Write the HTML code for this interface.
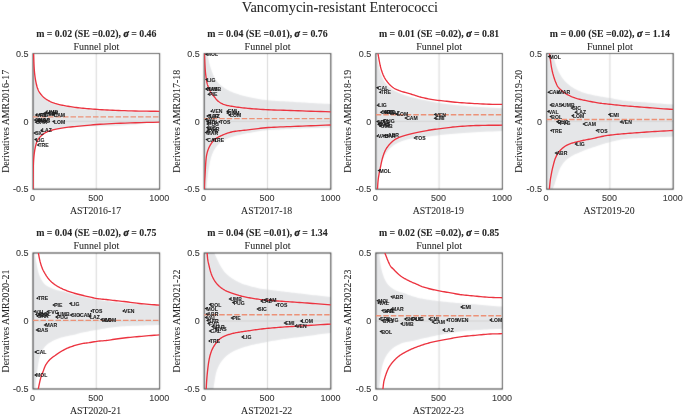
<!DOCTYPE html><html><head><meta charset="utf-8"><style>html,body{margin:0;padding:0;background:#fff;}svg{display:block;will-change:transform;}.sf{font-family:"Liberation Serif",serif;stroke-width:0.06px;} .ss{font-family:"Liberation Sans",sans-serif;stroke-width:0.1px;}</style></head><body>
<svg width="685" height="416" viewBox="0 0 685 416">
<filter id="bl" x="0" y="0" width="1" height="1"><feConvolveMatrix order="3" kernelMatrix="1 2 1 2 16 2 1 2 1" divisor="28" edgeMode="duplicate"/></filter>
<g filter="url(#bl)">
<rect width="685" height="416" fill="#fff"/>
<clipPath id="c0"><rect x="33" y="53.5" width="126.6" height="135.7"/></clipPath>
<g clip-path="url(#c0)"><path d="M33 53.5 L33.6 53.5 L33.6 53.5 L33.62 54.39 L33.64 55.27 L33.67 56.14 L33.69 57 L33.72 57.86 L33.74 58.7 L33.77 59.52 L33.8 60.34 L33.83 61.15 L33.86 61.94 L33.89 62.73 L33.92 63.49 L33.95 64.25 L33.99 65 L34.02 65.73 L34.06 66.44 L34.1 67.15 L34.14 67.84 L34.18 68.52 L34.22 69.18 L34.27 69.82 L34.32 70.45 L34.36 71.05 L34.41 71.65 L34.46 72.22 L34.52 72.79 L34.57 73.35 L34.63 73.89 L34.69 74.43 L34.75 74.97 L34.81 75.49 L34.88 76.02 L34.95 76.53 L35.02 77.05 L35.09 77.56 L35.17 78.08 L35.25 78.59 L35.33 79.1 L35.41 79.62 L35.5 80.13 L35.59 80.65 L35.69 81.17 L35.78 81.69 L35.88 82.22 L35.99 82.74 L36.1 83.27 L36.21 83.79 L36.33 84.31 L36.45 84.82 L36.57 85.33 L36.7 85.84 L36.84 86.33 L36.98 86.82 L37.12 87.31 L37.27 87.78 L37.42 88.25 L37.59 88.71 L37.75 89.16 L37.92 89.6 L38.1 90.04 L38.29 90.46 L38.48 90.87 L38.68 91.27 L38.89 91.66 L39.1 92.03 L39.32 92.4 L39.55 92.76 L39.79 93.12 L40.04 93.47 L40.29 93.82 L40.56 94.18 L40.83 94.53 L41.12 94.88 L41.41 95.24 L41.72 95.6 L42.03 95.97 L42.36 96.33 L42.7 96.68 L43.05 97.03 L43.42 97.37 L43.8 97.71 L44.19 98.04 L44.6 98.37 L45.02 98.69 L45.45 99.01 L45.91 99.32 L46.37 99.63 L46.86 99.94 L47.36 100.24 L47.88 100.55 L48.43 100.87 L48.99 101.18 L49.57 101.49 L50.17 101.8 L50.79 102.1 L51.44 102.4 L52.11 102.69 L52.8 102.97 L53.52 103.24 L54.27 103.5 L55.04 103.75 L55.84 103.99 L56.67 104.22 L57.53 104.45 L58.42 104.68 L59.34 104.9 L60.3 105.11 L61.29 105.32 L62.32 105.53 L63.38 105.74 L64.49 105.95 L65.63 106.16 L66.82 106.37 L68.04 106.58 L69.32 106.79 L70.64 107.01 L72 107.22 L73.42 107.42 L74.89 107.63 L76.41 107.82 L77.99 108.02 L79.62 108.2 L81.31 108.39 L83.07 108.56 L84.89 108.73 L86.77 108.9 L88.73 109.06 L90.75 109.23 L92.85 109.39 L95.02 109.56 L97.27 109.73 L99.61 109.93 L102.03 110.14 L104.53 110.35 L107.13 110.55 L109.83 110.72 L112.62 110.86 L115.51 110.97 L118.5 111.07 L121.61 111.17 L124.83 111.26 L128.16 111.34 L131.62 111.42 L135.2 111.5 L138.92 111.58 L142.76 111.65 L146.75 111.69 L150.88 111.73 L155.16 111.76 L159.6 111.8 L161.6 111.8 L161.6 122.5 L159.6 122.5 L153.07 122.75 L146.88 123.08 L141.01 123.78 L135.44 124.47 L130.16 124.82 L125.15 125.15 L120.4 125.43 L115.9 125.64 L111.62 125.76 L107.57 125.84 L103.73 125.91 L100.08 125.99 L96.62 126.1 L93.34 126.22 L90.23 126.34 L87.28 126.47 L84.48 126.6 L81.83 126.73 L79.31 126.86 L76.92 126.99 L74.66 127.12 L72.51 127.26 L70.48 127.39 L68.54 127.53 L66.71 127.69 L64.97 127.86 L63.33 128.05 L61.76 128.25 L60.28 128.47 L58.87 128.69 L57.54 128.93 L56.27 129.18 L55.07 129.43 L53.94 129.68 L52.86 129.95 L51.83 130.22 L50.86 130.5 L49.94 130.78 L49.07 131.08 L48.24 131.39 L47.45 131.71 L46.71 132.04 L46 132.39 L45.33 132.76 L44.7 133.13 L44.09 133.52 L43.52 133.92 L42.98 134.33 L42.46 134.73 L41.98 135.15 L41.51 135.55 L41.08 135.96 L40.66 136.36 L40.26 136.77 L39.89 137.17 L39.53 137.57 L39.2 137.98 L38.88 138.39 L38.58 138.81 L38.29 139.23 L38.02 139.66 L37.76 140.11 L37.51 140.57 L37.28 141.05 L37.06 141.53 L36.85 142.03 L36.65 142.54 L36.46 143.05 L36.28 143.58 L36.11 144.11 L35.95 144.66 L35.8 145.21 L35.66 145.76 L35.52 146.32 L35.39 146.89 L35.27 147.46 L35.15 148.02 L35.04 148.59 L34.93 149.16 L34.83 149.71 L34.74 150.26 L34.65 150.81 L34.57 151.34 L34.48 151.87 L34.41 152.4 L34.34 152.91 L34.27 153.42 L34.2 153.92 L34.14 154.42 L34.08 154.9 L34.02 155.39 L33.97 155.86 L33.92 156.33 L33.87 156.8 L33.83 157.26 L33.79 157.73 L33.75 158.18 L33.71 158.64 L33.67 159.1 L33.64 159.56 L33.6 160.03 L33.57 160.5 L33.54 160.97 L33.52 161.46 L33.49 161.96 L33.46 162.47 L33.44 163 L33.42 163.56 L33.4 164.13 L33.37 164.72 L33.36 165.31 L33.34 165.91 L33.32 166.52 L33.3 167.13 L33.29 167.76 L33.27 168.38 L33.26 169.02 L33.25 169.66 L33.23 170.3 L33.22 170.95 L33.21 171.6 L33.2 172.26 L33.19 172.92 L33.18 173.59 L33.17 174.26 L33.16 174.93 L33.15 175.6 L33.14 176.27 L33.14 176.94 L33.13 177.6 L33.12 178.27 L33.12 178.93 L33.11 179.59 L33.11 180.24 L33.1 180.88 L33.09 181.52 L33.09 182.15 L33.09 182.76 L33.08 183.36 L33.08 183.94 L33.07 184.51 L33.07 185.05 L33.07 185.58 L33.06 186.08 L33.06 186.55 L33.06 186.99 L33.05 187.4 L33.05 187.78 L33.05 188.11 L33.05 188.4 L33.04 188.64 L33.04 188.84 L33.04 188.97 L33.04 189.2 L33 189.2 Z" fill="#e5e6e8"/><line x1="96.3" y1="53.5" x2="96.3" y2="189.2" stroke="#d0d0d0" stroke-width="0.9"/><line x1="33" y1="121.35" x2="159.6" y2="121.35" stroke="#d0d0d0" stroke-width="0.9"/></g>
<rect x="33" y="53.5" width="126.6" height="135.7" fill="none" stroke="#262626" stroke-width="1.05"/>
<clipPath id="c1"><rect x="204.2" y="53.5" width="126.6" height="135.7"/></clipPath>
<g clip-path="url(#c1)"><path d="M204.2 53.5 L207.2 53.5 L207.21 53.53 L207.28 53.86 L207.36 54.17 L207.45 54.48 L207.53 54.8 L207.62 55.15 L207.71 55.54 L207.8 55.98 L207.89 56.46 L207.99 56.94 L208.08 57.44 L208.18 57.94 L208.29 58.44 L208.39 58.96 L208.5 59.48 L208.61 60 L208.73 60.53 L208.85 61.06 L208.97 61.6 L209.09 62.13 L209.22 62.67 L209.35 63.22 L209.48 63.76 L209.62 64.3 L209.76 64.85 L209.9 65.39 L210.05 65.92 L210.2 66.45 L210.36 66.98 L210.52 67.5 L210.68 68.02 L210.85 68.54 L211.02 69.06 L211.2 69.58 L211.38 70.1 L211.57 70.62 L211.76 71.15 L211.96 71.68 L212.16 72.21 L212.36 72.75 L212.58 73.29 L212.79 73.83 L213.02 74.38 L213.25 74.93 L213.48 75.47 L213.72 76 L213.97 76.53 L214.22 77.06 L214.48 77.57 L214.75 78.08 L215.02 78.58 L215.3 79.07 L215.59 79.55 L215.89 80 L216.19 80.43 L216.5 80.84 L216.82 81.24 L217.15 81.62 L217.48 82 L217.83 82.38 L218.18 82.77 L218.54 83.15 L218.92 83.54 L219.3 83.92 L219.69 84.3 L220.09 84.68 L220.51 85.05 L220.93 85.42 L221.36 85.79 L221.81 86.15 L222.26 86.51 L222.73 86.86 L223.21 87.22 L223.71 87.57 L224.21 87.91 L224.73 88.25 L225.27 88.59 L225.81 88.93 L226.37 89.26 L226.95 89.59 L227.54 89.92 L228.15 90.25 L228.77 90.57 L229.4 90.89 L230.06 91.2 L230.73 91.51 L231.42 91.82 L232.12 92.12 L232.85 92.42 L233.59 92.71 L234.35 93 L235.14 93.28 L235.94 93.56 L236.76 93.83 L237.61 94.1 L238.48 94.37 L239.37 94.63 L240.28 94.9 L241.21 95.16 L242.17 95.42 L243.16 95.68 L244.17 95.94 L245.21 96.2 L246.27 96.45 L247.36 96.72 L248.48 96.98 L249.63 97.24 L250.81 97.5 L252.02 97.75 L253.26 98.01 L254.54 98.26 L255.84 98.51 L257.18 98.75 L258.56 98.99 L259.97 99.23 L261.42 99.46 L262.9 99.67 L264.42 99.87 L265.99 100.06 L267.59 100.22 L269.24 100.38 L270.92 100.52 L272.65 100.66 L274.43 100.78 L276.25 100.91 L278.12 101.02 L280.04 101.14 L282.01 101.26 L284.03 101.37 L286.1 101.49 L288.23 101.61 L290.41 101.73 L292.64 101.86 L294.94 101.99 L297.29 102.13 L299.71 102.28 L302.19 102.44 L304.73 102.59 L307.34 102.75 L310.02 102.91 L312.76 103.07 L315.58 103.23 L318.47 103.39 L321.43 103.55 L324.48 103.7 L327.6 103.85 L330.8 104.01 L332.8 104.01 L332.8 127.5 L330.8 127.5 L327.39 127.59 L324.08 127.69 L320.85 127.78 L317.71 127.88 L314.66 127.97 L311.69 128.07 L308.79 128.17 L305.98 128.27 L303.24 128.37 L300.57 128.48 L297.98 128.58 L295.46 128.68 L293 128.78 L290.61 128.89 L288.29 128.99 L286.02 129.09 L283.82 129.19 L281.68 129.29 L279.59 129.4 L277.56 129.51 L275.59 129.62 L273.67 129.74 L271.8 129.86 L269.98 129.99 L268.21 130.12 L266.49 130.27 L264.81 130.42 L263.18 130.59 L261.59 130.78 L260.05 130.99 L258.55 131.22 L257.08 131.46 L255.66 131.71 L254.27 131.96 L252.93 132.21 L251.62 132.45 L250.34 132.68 L249.1 132.89 L247.89 133.1 L246.71 133.32 L245.57 133.54 L244.46 133.76 L243.37 133.98 L242.32 134.2 L241.29 134.43 L240.29 134.66 L239.32 134.89 L238.38 135.13 L237.46 135.36 L236.56 135.6 L235.69 135.84 L234.85 136.08 L234.02 136.32 L233.22 136.57 L232.44 136.82 L231.68 137.06 L230.94 137.31 L230.22 137.55 L229.52 137.8 L228.84 138.05 L228.17 138.3 L227.53 138.56 L226.9 138.82 L226.29 139.08 L225.7 139.36 L225.12 139.64 L224.55 139.93 L224.01 140.23 L223.47 140.54 L222.95 140.85 L222.45 141.17 L221.96 141.5 L221.48 141.83 L221.02 142.17 L220.56 142.51 L220.12 142.87 L219.69 143.22 L219.28 143.59 L218.87 143.95 L218.48 144.33 L218.09 144.7 L217.72 145.09 L217.35 145.48 L217 145.88 L216.66 146.29 L216.32 146.71 L215.99 147.13 L215.68 147.57 L215.37 148.01 L215.07 148.46 L214.78 148.92 L214.49 149.38 L214.21 149.86 L213.94 150.34 L213.68 150.84 L213.43 151.34 L213.18 151.86 L212.94 152.38 L212.7 152.92 L212.47 153.46 L212.25 154.02 L212.03 154.59 L211.82 155.17 L211.62 155.76 L211.42 156.37 L211.22 156.98 L211.04 157.61 L210.85 158.25 L210.67 158.9 L210.5 159.58 L210.33 160.29 L210.16 161.03 L210 161.79 L209.85 162.57 L209.69 163.36 L209.55 164.16 L209.4 164.97 L209.26 165.77 L209.13 166.57 L208.99 167.35 L208.87 168.12 L208.74 168.86 L208.62 169.6 L208.5 170.36 L208.38 171.12 L208.27 171.89 L208.16 172.66 L208.05 173.45 L207.95 174.24 L207.85 175.03 L207.75 175.83 L207.66 176.63 L207.56 177.44 L207.47 178.25 L207.38 179.06 L207.3 179.86 L207.22 180.67 L207.13 181.48 L207.06 182.29 L206.98 183.1 L206.9 183.92 L206.83 184.75 L206.76 185.58 L206.69 186.43 L206.62 187.29 L206.56 188.17 L206.5 189.07 L206.49 189.2 L204.2 189.2 Z" fill="#e5e6e8"/><line x1="267.5" y1="53.5" x2="267.5" y2="189.2" stroke="#d0d0d0" stroke-width="0.9"/><line x1="204.2" y1="121.35" x2="330.8" y2="121.35" stroke="#d0d0d0" stroke-width="0.9"/></g>
<rect x="204.2" y="53.5" width="126.6" height="135.7" fill="none" stroke="#262626" stroke-width="1.05"/>
<clipPath id="c2"><rect x="375.8" y="53.5" width="126.6" height="135.7"/></clipPath>
<g clip-path="url(#c2)"><path d="M375.8 53.5 L376.63 53.5 L376.65 53.7 L376.69 53.98 L376.72 54.27 L376.76 54.57 L376.8 54.88 L376.84 55.21 L376.88 55.54 L376.93 55.88 L376.97 56.23 L377.02 56.59 L377.07 56.96 L377.12 57.33 L377.18 57.72 L377.23 58.1 L377.29 58.5 L377.35 58.9 L377.42 59.3 L377.48 59.7 L377.55 60.1 L377.62 60.49 L377.7 60.89 L377.77 61.29 L377.85 61.7 L377.94 62.11 L378.03 62.53 L378.12 62.96 L378.21 63.41 L378.31 63.87 L378.41 64.34 L378.52 64.83 L378.63 65.33 L378.74 65.84 L378.87 66.35 L378.99 66.86 L379.12 67.38 L379.26 67.92 L379.4 68.46 L379.54 69.03 L379.7 69.61 L379.86 70.21 L380.02 70.82 L380.19 71.43 L380.37 72.03 L380.56 72.65 L380.75 73.26 L380.96 73.87 L381.17 74.49 L381.39 75.1 L381.61 75.72 L381.85 76.33 L382.1 76.95 L382.36 77.57 L382.62 78.2 L382.9 78.82 L383.19 79.44 L383.49 80.05 L383.81 80.65 L384.13 81.24 L384.47 81.8 L384.83 82.34 L385.2 82.86 L385.58 83.36 L385.98 83.85 L386.39 84.33 L386.83 84.81 L387.28 85.3 L387.75 85.78 L388.23 86.25 L388.74 86.73 L389.27 87.19 L389.82 87.65 L390.39 88.1 L390.99 88.55 L391.61 88.99 L392.25 89.43 L392.92 89.85 L393.62 90.27 L394.35 90.67 L395.11 91.05 L395.9 91.44 L396.72 91.83 L397.57 92.23 L398.46 92.65 L399.38 93.08 L400.35 93.51 L401.35 93.94 L402.39 94.36 L403.48 94.77 L404.61 95.17 L405.78 95.57 L407.01 95.96 L408.28 96.35 L409.61 96.73 L410.99 97.1 L412.42 97.47 L413.92 97.83 L415.48 98.2 L417.09 98.57 L418.78 98.94 L420.54 99.31 L422.36 99.68 L424.26 100.05 L426.24 100.46 L428.3 100.91 L430.44 101.36 L432.67 101.82 L434.99 102.27 L437.41 102.7 L439.93 103.1 L442.54 103.48 L445.27 103.85 L448.1 104.22 L451.06 104.57 L454.13 104.91 L457.33 105.24 L460.65 105.56 L464.12 105.86 L467.72 106.16 L471.48 106.44 L475.38 106.72 L479.45 106.98 L483.68 107.24 L488.08 107.49 L492.66 107.74 L497.43 107.97 L502.4 108.2 L504.4 108.2 L504.4 130.99 L502.4 130.99 L497.43 131.19 L492.66 131.39 L488.08 131.58 L483.68 131.78 L479.45 131.98 L475.38 132.19 L471.48 132.41 L467.72 132.64 L464.12 132.88 L460.65 133.13 L457.33 133.38 L454.13 133.65 L451.06 133.91 L448.1 134.19 L445.27 134.47 L442.54 134.77 L439.93 135.08 L437.41 135.4 L434.99 135.71 L432.67 136 L430.44 136.26 L428.3 136.49 L426.24 136.68 L424.26 136.86 L422.36 137.03 L420.54 137.22 L418.78 137.43 L417.09 137.68 L415.48 137.93 L413.92 138.19 L412.42 138.45 L410.99 138.72 L409.61 139 L408.28 139.3 L407.01 139.6 L405.78 139.92 L404.61 140.25 L403.48 140.6 L402.39 140.97 L401.35 141.35 L400.35 141.74 L399.38 142.14 L398.46 142.56 L397.57 142.99 L396.72 143.44 L395.9 143.9 L395.11 144.37 L394.35 144.85 L393.62 145.35 L392.92 145.86 L392.25 146.39 L391.61 146.92 L390.99 147.46 L390.39 148.01 L389.82 148.57 L389.27 149.14 L388.74 149.71 L388.23 150.31 L387.75 150.91 L387.28 151.53 L386.83 152.16 L386.39 152.8 L385.98 153.44 L385.58 154.09 L385.2 154.75 L384.83 155.41 L384.47 156.07 L384.13 156.73 L383.81 157.39 L383.49 158.04 L383.19 158.68 L382.9 159.31 L382.62 159.94 L382.36 160.56 L382.1 161.18 L381.85 161.8 L381.61 162.41 L381.39 163.02 L381.17 163.63 L380.96 164.24 L380.75 164.85 L380.56 165.47 L380.37 166.09 L380.19 166.71 L380.02 167.33 L379.86 167.94 L379.7 168.55 L379.54 169.14 L379.4 169.74 L379.26 170.32 L379.12 170.91 L378.99 171.48 L378.87 172.05 L378.74 172.62 L378.63 173.18 L378.52 173.73 L378.41 174.28 L378.31 174.83 L378.21 175.37 L378.12 175.9 L378.03 176.44 L377.94 176.97 L377.85 177.5 L377.77 178.03 L377.7 178.56 L377.62 179.08 L377.55 179.61 L377.48 180.14 L377.42 180.67 L377.35 181.19 L377.29 181.7 L377.23 182.21 L377.18 182.7 L377.12 183.19 L377.07 183.67 L377.02 184.14 L376.97 184.6 L376.93 185.05 L376.88 185.49 L376.84 185.92 L376.8 186.33 L376.76 186.74 L376.72 187.12 L376.69 187.5 L376.65 187.86 L376.62 188.2 L376.59 188.52 L376.56 188.83 L376.53 189.12 L376.1 189.03 L376.1 189.2 L375.8 189.2 Z" fill="#e5e6e8"/><line x1="439.1" y1="53.5" x2="439.1" y2="189.2" stroke="#d0d0d0" stroke-width="0.9"/><line x1="375.8" y1="121.35" x2="502.4" y2="121.35" stroke="#d0d0d0" stroke-width="0.9"/></g>
<rect x="375.8" y="53.5" width="126.6" height="135.7" fill="none" stroke="#262626" stroke-width="1.05"/>
<clipPath id="c3"><rect x="546.6" y="53.5" width="126.6" height="135.7"/></clipPath>
<g clip-path="url(#c3)"><path d="M546.6 53.5 L552.41 53.5 L552.45 53.68 L552.58 54.09 L552.71 54.49 L552.84 54.88 L552.98 55.28 L553.12 55.7 L553.26 56.15 L553.4 56.64 L553.55 57.18 L553.7 57.74 L553.85 58.29 L554.01 58.85 L554.17 59.4 L554.34 59.96 L554.51 60.52 L554.68 61.09 L554.85 61.65 L555.03 62.23 L555.22 62.81 L555.4 63.39 L555.59 63.98 L555.79 64.58 L555.99 65.17 L556.19 65.76 L556.4 66.35 L556.62 66.93 L556.83 67.51 L557.06 68.08 L557.28 68.65 L557.52 69.22 L557.75 69.78 L557.99 70.33 L558.24 70.88 L558.5 71.43 L558.75 71.97 L559.02 72.5 L559.29 73.03 L559.56 73.55 L559.85 74.06 L560.13 74.57 L560.43 75.07 L560.73 75.57 L561.03 76.05 L561.35 76.54 L561.67 77.01 L562 77.49 L562.33 77.95 L562.67 78.42 L563.02 78.88 L563.38 79.33 L563.74 79.78 L564.12 80.22 L564.5 80.66 L564.89 81.09 L565.28 81.52 L565.69 81.94 L566.1 82.36 L566.53 82.77 L566.96 83.18 L567.4 83.58 L567.86 83.98 L568.32 84.37 L568.79 84.76 L569.27 85.15 L569.76 85.52 L570.27 85.9 L570.78 86.27 L571.31 86.63 L571.84 86.99 L572.39 87.35 L572.95 87.71 L573.53 88.06 L574.11 88.4 L574.71 88.74 L575.32 89.08 L575.94 89.41 L576.58 89.74 L577.23 90.07 L577.9 90.39 L578.58 90.7 L579.27 91.01 L579.98 91.32 L580.71 91.62 L581.45 91.92 L582.21 92.2 L582.98 92.47 L583.77 92.73 L584.58 92.98 L585.41 93.22 L586.25 93.46 L587.11 93.69 L587.99 93.92 L588.89 94.14 L589.81 94.36 L590.75 94.58 L591.71 94.8 L592.69 95.01 L593.69 95.23 L594.71 95.45 L595.76 95.66 L596.83 95.87 L597.92 96.07 L599.03 96.26 L600.17 96.46 L601.34 96.65 L602.53 96.85 L603.74 97.04 L604.99 97.24 L606.25 97.45 L607.55 97.65 L608.88 97.87 L610.23 98.09 L611.61 98.32 L613.02 98.59 L614.47 98.88 L615.94 99.19 L617.45 99.51 L618.99 99.82 L620.56 100.12 L622.17 100.4 L623.81 100.65 L625.49 100.86 L627.2 101.04 L628.96 101.22 L630.75 101.37 L632.57 101.52 L634.44 101.67 L636.35 101.81 L638.3 101.94 L640.3 102.08 L642.33 102.23 L644.41 102.37 L646.54 102.53 L648.71 102.7 L650.93 102.87 L653.2 103.06 L655.51 103.24 L657.88 103.42 L660.3 103.61 L662.77 103.79 L665.29 103.97 L667.87 104.15 L670.51 104.33 L673.2 104.5 L675.2 104.5 L675.2 136.6 L673.2 136.6 L670.53 136.7 L667.92 136.81 L665.37 136.91 L662.87 137.02 L660.42 137.12 L658.02 137.23 L655.67 137.33 L653.38 137.44 L651.13 137.55 L648.93 137.65 L646.77 137.75 L644.66 137.83 L642.6 137.91 L640.57 137.99 L638.59 138.07 L636.66 138.15 L634.76 138.23 L632.9 138.33 L631.09 138.44 L629.31 138.57 L627.56 138.72 L625.86 138.9 L624.19 139.11 L622.55 139.35 L620.96 139.62 L619.39 139.91 L617.86 140.23 L616.36 140.56 L614.89 140.91 L613.45 141.26 L612.04 141.61 L610.66 141.96 L609.31 142.3 L607.99 142.63 L606.7 142.98 L605.43 143.33 L604.19 143.7 L602.98 144.07 L601.79 144.44 L600.63 144.82 L599.49 145.19 L598.38 145.56 L597.29 145.93 L596.22 146.29 L595.18 146.64 L594.15 146.98 L593.15 147.3 L592.17 147.6 L591.21 147.9 L590.27 148.21 L589.35 148.52 L588.45 148.83 L587.57 149.15 L586.71 149.47 L585.86 149.79 L585.03 150.11 L584.22 150.44 L583.43 150.77 L582.66 151.11 L581.9 151.45 L581.15 151.77 L580.43 152.08 L579.71 152.36 L579.02 152.64 L578.33 152.91 L577.66 153.17 L577.01 153.43 L576.37 153.69 L575.74 153.96 L575.13 154.24 L574.53 154.54 L573.94 154.84 L573.36 155.15 L572.8 155.46 L572.25 155.77 L571.71 156.09 L571.18 156.41 L570.66 156.73 L570.16 157.06 L569.66 157.4 L569.17 157.73 L568.7 158.07 L568.23 158.41 L567.78 158.75 L567.33 159.09 L566.89 159.43 L566.47 159.77 L566.05 160.12 L565.64 160.48 L565.24 160.86 L564.85 161.25 L564.46 161.66 L564.08 162.1 L563.72 162.55 L563.36 163.02 L563 163.49 L562.66 163.97 L562.32 164.45 L561.99 164.95 L561.66 165.45 L561.35 165.96 L561.04 166.48 L560.73 167 L560.43 167.54 L560.14 168.1 L559.86 168.72 L559.58 169.39 L559.31 170.1 L559.04 170.82 L558.78 171.56 L558.52 172.28 L558.27 172.98 L558.02 173.64 L557.78 174.27 L557.55 174.91 L557.32 175.55 L557.09 176.2 L556.87 176.85 L556.65 177.5 L556.44 178.15 L556.23 178.81 L556.03 179.46 L555.83 180.12 L555.64 180.77 L555.45 181.41 L555.26 182.03 L555.08 182.61 L554.9 183.16 L554.73 183.69 L554.55 184.19 L554.39 184.68 L554.22 185.14 L554.06 185.59 L553.9 186.02 L553.75 186.45 L553.6 186.86 L553.45 187.27 L553.31 187.68 L553.17 188.09 L553.03 188.43 L552.89 188.68 L552.76 188.91 L552.63 189.14 L552.62 189.2 L546.6 189.2 Z" fill="#e5e6e8"/><line x1="609.9" y1="53.5" x2="609.9" y2="189.2" stroke="#d0d0d0" stroke-width="0.9"/><line x1="546.6" y1="121.35" x2="673.2" y2="121.35" stroke="#d0d0d0" stroke-width="0.9"/></g>
<rect x="546.6" y="53.5" width="126.6" height="135.7" fill="none" stroke="#262626" stroke-width="1.05"/>
<clipPath id="c4"><rect x="33" y="253" width="126.6" height="136"/></clipPath>
<g clip-path="url(#c4)"><path d="M33 253 L34.22 253 L34.22 253.01 L34.26 253.02 L34.3 253.04 L34.34 253.06 L34.39 253.1 L34.43 253.15 L34.48 253.23 L34.52 253.32 L34.57 253.45 L34.62 253.61 L34.67 253.8 L34.73 254.03 L34.78 254.31 L34.84 254.61 L34.9 254.92 L34.96 255.24 L35.02 255.56 L35.08 255.89 L35.15 256.22 L35.22 256.57 L35.29 256.93 L35.36 257.31 L35.44 257.69 L35.52 258.1 L35.6 258.51 L35.68 258.95 L35.76 259.4 L35.85 259.88 L35.94 260.37 L36.04 260.88 L36.13 261.41 L36.23 261.96 L36.34 262.53 L36.44 263.12 L36.55 263.73 L36.67 264.37 L36.78 265.02 L36.9 265.68 L37.03 266.35 L37.15 267.02 L37.29 267.7 L37.42 268.37 L37.56 269.04 L37.71 269.7 L37.86 270.34 L38.01 270.98 L38.17 271.59 L38.34 272.19 L38.51 272.77 L38.68 273.33 L38.87 273.88 L39.05 274.42 L39.25 274.96 L39.44 275.48 L39.65 275.99 L39.86 276.49 L40.08 276.99 L40.3 277.48 L40.54 277.97 L40.78 278.44 L41.03 278.92 L41.28 279.39 L41.54 279.85 L41.82 280.32 L42.1 280.78 L42.39 281.24 L42.69 281.69 L42.99 282.14 L43.31 282.57 L43.64 283 L43.98 283.41 L44.33 283.81 L44.69 284.19 L45.06 284.56 L45.45 284.9 L45.84 285.22 L46.25 285.53 L46.67 285.81 L47.11 286.08 L47.56 286.34 L48.02 286.59 L48.5 286.84 L48.99 287.08 L49.5 287.32 L50.03 287.56 L50.57 287.81 L51.13 288.06 L51.71 288.31 L52.3 288.55 L52.92 288.79 L53.55 289.03 L54.21 289.27 L54.88 289.5 L55.58 289.73 L56.3 289.95 L57.04 290.17 L57.8 290.39 L58.59 290.6 L59.41 290.78 L60.25 290.95 L61.12 291.1 L62.01 291.25 L62.94 291.42 L63.89 291.61 L64.87 291.83 L65.89 292.1 L66.94 292.4 L68.02 292.73 L69.13 293.06 L70.28 293.41 L71.47 293.75 L72.69 294.1 L73.96 294.45 L75.26 294.79 L76.61 295.13 L78 295.46 L79.43 295.78 L80.91 296.11 L82.43 296.43 L84.01 296.76 L85.63 297.09 L87.31 297.42 L89.04 297.77 L90.82 298.13 L92.66 298.54 L94.56 298.96 L96.52 299.38 L98.55 299.76 L100.63 300.1 L102.79 300.41 L105.01 300.72 L107.3 301.03 L109.67 301.33 L112.11 301.63 L114.63 301.92 L117.23 302.21 L119.91 302.49 L122.68 302.77 L125.53 303.04 L128.48 303.31 L131.52 303.57 L134.66 303.82 L137.89 304.07 L141.23 304.32 L144.68 304.56 L148.24 304.8 L151.91 305.04 L155.69 305.27 L159.6 305.5 L161.6 305.5 L161.6 325 L159.6 325 L156.26 325.09 L153 325.19 L149.83 325.28 L146.75 325.37 L143.75 325.47 L140.82 325.56 L137.97 325.66 L135.2 325.76 L132.5 325.87 L129.88 325.98 L127.32 326.1 L124.83 326.22 L122.4 326.36 L120.04 326.5 L117.75 326.67 L115.51 326.88 L113.33 327.13 L111.21 327.42 L109.14 327.73 L107.13 328.05 L105.18 328.39 L103.27 328.74 L101.41 329.08 L99.61 329.4 L97.85 329.71 L96.14 329.99 L94.47 330.27 L92.85 330.55 L91.27 330.83 L89.73 331.1 L88.23 331.38 L86.77 331.66 L85.35 331.94 L83.97 332.23 L82.62 332.51 L81.31 332.81 L80.04 333.11 L78.8 333.44 L77.59 333.79 L76.41 334.13 L75.26 334.46 L74.15 334.75 L73.06 334.99 L72 335.18 L70.97 335.37 L69.97 335.56 L68.99 335.75 L68.04 335.94 L67.12 336.13 L66.22 336.32 L65.34 336.52 L64.49 336.72 L63.66 336.93 L62.85 337.15 L62.06 337.37 L61.29 337.6 L60.54 337.83 L59.82 338.07 L59.11 338.3 L58.42 338.54 L57.75 338.79 L57.09 339.03 L56.46 339.28 L55.84 339.53 L55.24 339.79 L54.65 340.05 L54.08 340.31 L53.52 340.57 L52.98 340.84 L52.45 341.1 L51.94 341.36 L51.44 341.63 L50.95 341.89 L50.48 342.17 L50.02 342.44 L49.57 342.72 L49.13 343 L48.7 343.29 L48.29 343.59 L47.88 343.89 L47.49 344.21 L47.11 344.53 L46.74 344.86 L46.37 345.2 L46.02 345.54 L45.68 345.9 L45.34 346.26 L45.02 346.62 L44.7 347 L44.39 347.38 L44.09 347.77 L43.8 348.17 L43.51 348.57 L43.23 348.98 L42.96 349.4 L42.7 349.83 L42.44 350.27 L42.2 350.72 L41.95 351.19 L41.72 351.67 L41.49 352.17 L41.26 352.68 L41.04 353.21 L40.83 353.75 L40.62 354.3 L40.42 354.87 L40.23 355.44 L40.04 356.04 L39.85 356.64 L39.67 357.26 L39.49 357.89 L39.32 358.55 L39.16 359.25 L38.99 359.98 L38.83 360.74 L38.68 361.51 L38.53 362.31 L38.38 363.13 L38.24 363.95 L38.1 364.78 L37.97 365.62 L37.84 366.45 L37.71 367.28 L37.59 368.09 L37.46 368.91 L37.35 369.72 L37.23 370.54 L37.12 371.36 L37.01 372.2 L36.91 373.04 L36.8 373.89 L36.7 374.75 L36.6 375.62 L36.51 376.51 L36.42 377.41 L36.33 378.33 L36.24 379.26 L36.15 380.2 L36.07 381.16 L35.99 382.14 L35.91 383.12 L35.83 384.12 L35.76 385.14 L35.69 386.17 L35.61 387.21 L35.55 388.28 L35.5 389 L33 389 Z" fill="#e5e6e8"/><line x1="96.3" y1="253" x2="96.3" y2="389" stroke="#d0d0d0" stroke-width="0.9"/><line x1="33" y1="321" x2="159.6" y2="321" stroke="#d0d0d0" stroke-width="0.9"/></g>
<rect x="33" y="253" width="126.6" height="136" fill="none" stroke="#262626" stroke-width="1.05"/>
<clipPath id="c5"><rect x="204.2" y="253" width="126.6" height="136"/></clipPath>
<g clip-path="url(#c5)"><path d="M204.2 253 L214.31 253 L214.34 253.1 L214.52 253.55 L214.71 253.98 L214.9 254.4 L215.1 254.82 L215.3 255.24 L215.5 255.65 L215.7 256.08 L215.91 256.51 L216.13 256.95 L216.34 257.41 L216.56 257.88 L216.79 258.38 L217.02 258.89 L217.25 259.41 L217.49 259.94 L217.73 260.47 L217.98 261.01 L218.23 261.54 L218.48 262.08 L218.74 262.62 L219.01 263.16 L219.28 263.7 L219.55 264.23 L219.83 264.76 L220.12 265.28 L220.41 265.79 L220.7 266.3 L221 266.8 L221.31 267.3 L221.62 267.8 L221.93 268.31 L222.26 268.82 L222.59 269.32 L222.92 269.82 L223.26 270.31 L223.61 270.79 L223.96 271.26 L224.32 271.71 L224.69 272.14 L225.06 272.55 L225.44 272.95 L225.83 273.33 L226.22 273.72 L226.62 274.1 L227.03 274.47 L227.44 274.84 L227.87 275.2 L228.3 275.57 L228.73 275.92 L229.18 276.28 L229.64 276.63 L230.1 276.97 L230.57 277.32 L231.05 277.66 L231.54 278 L232.04 278.33 L232.54 278.67 L233.06 279 L233.58 279.33 L234.12 279.65 L234.66 279.98 L235.22 280.31 L235.78 280.63 L236.36 280.95 L236.94 281.27 L237.54 281.58 L238.14 281.89 L238.76 282.2 L239.39 282.5 L240.03 282.8 L240.68 283.09 L241.35 283.38 L242.02 283.67 L242.71 283.94 L243.41 284.19 L244.12 284.42 L244.85 284.65 L245.59 284.86 L246.34 285.07 L247.11 285.27 L247.89 285.48 L248.69 285.69 L249.49 285.92 L250.32 286.15 L251.16 286.39 L252.01 286.63 L252.88 286.88 L253.77 287.12 L254.67 287.36 L255.59 287.6 L256.52 287.84 L257.48 288.07 L258.45 288.3 L259.43 288.51 L260.44 288.69 L261.46 288.83 L262.5 288.95 L263.56 289.06 L264.64 289.17 L265.74 289.3 L266.86 289.44 L268 289.6 L269.16 289.77 L270.35 289.94 L271.55 290.1 L272.78 290.27 L274.02 290.43 L275.29 290.6 L276.59 290.76 L277.9 290.93 L279.25 291.1 L280.61 291.26 L282 291.43 L283.42 291.6 L284.86 291.77 L286.33 291.95 L287.82 292.12 L289.34 292.3 L290.89 292.47 L292.47 292.65 L294.07 292.84 L295.71 293.02 L297.38 293.21 L299.07 293.4 L300.8 293.59 L302.55 293.79 L304.34 294 L306.17 294.22 L308.02 294.44 L309.91 294.67 L311.83 294.9 L313.79 295.13 L315.79 295.36 L317.82 295.59 L319.88 295.82 L321.99 296.05 L324.13 296.27 L326.32 296.49 L328.54 296.7 L330.8 296.91 L332.8 296.91 L332.8 332.99 L330.8 332.99 L328.47 333.24 L326.19 333.5 L323.95 333.77 L321.75 334.05 L319.59 334.33 L317.47 334.62 L315.39 334.91 L313.34 335.19 L311.34 335.48 L309.37 335.76 L307.43 336.03 L305.54 336.29 L303.68 336.54 L301.85 336.78 L300.05 336.99 L298.29 337.2 L296.56 337.41 L294.86 337.62 L293.2 337.82 L291.56 338.03 L289.96 338.25 L288.38 338.46 L286.83 338.67 L285.32 338.88 L283.83 339.1 L282.36 339.32 L280.93 339.53 L279.52 339.75 L278.13 339.97 L276.77 340.19 L275.44 340.41 L274.13 340.64 L272.84 340.86 L271.58 341.09 L270.35 341.32 L269.13 341.54 L267.94 341.77 L266.76 342.01 L265.62 342.23 L264.49 342.45 L263.38 342.66 L262.29 342.87 L261.22 343.07 L260.18 343.27 L259.15 343.46 L258.14 343.65 L257.15 343.85 L256.17 344.04 L255.22 344.23 L254.28 344.43 L253.36 344.63 L252.46 344.83 L251.57 345.04 L250.7 345.25 L249.84 345.47 L249.01 345.69 L248.18 345.92 L247.37 346.15 L246.58 346.38 L245.8 346.61 L245.04 346.84 L244.29 347.08 L243.55 347.32 L242.83 347.55 L242.12 347.79 L241.42 348.03 L240.74 348.27 L240.07 348.51 L239.41 348.75 L238.76 348.99 L238.12 349.23 L237.5 349.48 L236.89 349.73 L236.29 349.98 L235.7 350.24 L235.12 350.5 L234.55 350.77 L233.99 351.05 L233.45 351.33 L232.91 351.62 L232.38 351.91 L231.86 352.2 L231.35 352.49 L230.86 352.79 L230.37 353.09 L229.88 353.39 L229.41 353.7 L228.95 354.01 L228.49 354.33 L228.05 354.65 L227.61 354.98 L227.18 355.32 L226.76 355.67 L226.34 356.03 L225.94 356.39 L225.54 356.77 L225.14 357.16 L224.76 357.55 L224.38 357.95 L224.01 358.35 L223.65 358.76 L223.29 359.17 L222.94 359.58 L222.59 360 L222.26 360.42 L221.92 360.85 L221.6 361.28 L221.28 361.71 L220.96 362.15 L220.66 362.6 L220.35 363.06 L220.06 363.53 L219.77 364.02 L219.48 364.53 L219.2 365.04 L218.92 365.57 L218.65 366.11 L218.39 366.66 L218.13 367.23 L217.87 367.81 L217.62 368.4 L217.37 369.01 L217.13 369.62 L216.89 370.25 L216.66 370.9 L216.43 371.63 L216.21 372.45 L215.99 373.34 L215.77 374.31 L215.56 375.34 L215.35 376.42 L215.14 377.56 L214.94 378.74 L214.74 379.95 L214.55 381.2 L214.36 382.46 L214.17 383.74 L213.99 385.02 L213.81 386.29 L213.63 387.55 L213.46 388.66 L213.38 389 L204.2 389 Z" fill="#e5e6e8"/><line x1="267.5" y1="253" x2="267.5" y2="389" stroke="#d0d0d0" stroke-width="0.9"/><line x1="204.2" y1="321" x2="330.8" y2="321" stroke="#d0d0d0" stroke-width="0.9"/></g>
<rect x="204.2" y="253" width="126.6" height="136" fill="none" stroke="#262626" stroke-width="1.05"/>
<clipPath id="c6"><rect x="375.8" y="253" width="126.6" height="136"/></clipPath>
<g clip-path="url(#c6)"><path d="M375.8 253 L379.2 253 L379.25 253.63 L379.34 254.63 L379.43 255.62 L379.52 256.61 L379.62 257.58 L379.71 258.53 L379.81 259.47 L379.91 260.37 L380.01 261.24 L380.12 262.08 L380.23 262.87 L380.34 263.62 L380.45 264.33 L380.57 265.02 L380.69 265.69 L380.81 266.35 L380.94 267 L381.07 267.64 L381.2 268.26 L381.34 268.88 L381.48 269.48 L381.62 270.08 L381.77 270.67 L381.92 271.25 L382.07 271.82 L382.23 272.38 L382.39 272.93 L382.55 273.48 L382.72 274.02 L382.9 274.56 L383.08 275.09 L383.26 275.61 L383.45 276.13 L383.64 276.65 L383.84 277.16 L384.04 277.66 L384.25 278.16 L384.46 278.65 L384.68 279.14 L384.9 279.62 L385.13 280.09 L385.36 280.55 L385.6 281.01 L385.85 281.46 L386.1 281.89 L386.36 282.32 L386.63 282.74 L386.9 283.15 L387.18 283.55 L387.47 283.94 L387.76 284.31 L388.06 284.67 L388.37 285.01 L388.68 285.35 L389.01 285.67 L389.34 285.99 L389.68 286.3 L390.03 286.61 L390.39 286.91 L390.75 287.21 L391.13 287.5 L391.52 287.79 L391.91 288.08 L392.32 288.36 L392.73 288.64 L393.16 288.91 L393.59 289.18 L394.04 289.43 L394.5 289.69 L394.97 289.93 L395.45 290.18 L395.95 290.42 L396.45 290.65 L396.97 290.88 L397.51 291.11 L398.05 291.33 L398.61 291.55 L399.19 291.77 L399.77 291.96 L400.38 292.14 L400.99 292.31 L401.63 292.47 L402.28 292.64 L402.94 292.83 L403.63 293.03 L404.33 293.26 L405.04 293.52 L405.78 293.8 L406.53 294.09 L407.31 294.38 L408.1 294.68 L408.91 294.99 L409.74 295.3 L410.6 295.6 L411.47 295.91 L412.37 296.21 L413.29 296.51 L414.23 296.8 L415.2 297.09 L416.19 297.37 L417.2 297.64 L418.24 297.9 L419.31 298.15 L420.41 298.39 L421.53 298.62 L422.68 298.83 L423.86 299.04 L425.07 299.25 L426.3 299.45 L427.57 299.65 L428.88 299.85 L430.21 300.04 L431.58 300.23 L432.98 300.42 L434.42 300.61 L435.89 300.8 L437.41 300.98 L438.96 301.16 L440.54 301.34 L442.17 301.52 L443.84 301.7 L445.55 301.87 L447.31 302.05 L449.1 302.23 L450.95 302.41 L452.84 302.58 L454.77 302.76 L456.76 302.94 L458.8 303.11 L460.88 303.29 L463.02 303.46 L465.22 303.64 L467.47 303.81 L469.77 303.98 L472.13 304.16 L474.56 304.36 L477.04 304.57 L479.59 304.79 L482.2 305.03 L484.87 305.26 L487.62 305.5 L490.43 305.73 L493.31 305.96 L496.26 306.19 L499.29 306.4 L502.4 306.6 L504.4 306.6 L504.4 328.79 L502.4 328.79 L499.2 328.93 L496.08 329.07 L493.03 329.2 L490.07 329.34 L487.18 329.47 L484.36 329.61 L481.62 329.75 L478.94 329.9 L476.33 330.06 L473.79 330.22 L471.31 330.4 L468.89 330.59 L466.54 330.8 L464.24 331.04 L462.01 331.3 L459.83 331.58 L457.7 331.87 L455.63 332.18 L453.61 332.49 L451.64 332.82 L449.72 333.14 L447.85 333.47 L446.03 333.79 L444.25 334.11 L442.52 334.41 L440.84 334.7 L439.19 335 L437.59 335.3 L436.02 335.61 L434.5 335.92 L433.02 336.22 L431.57 336.53 L430.16 336.84 L428.78 337.15 L427.44 337.45 L426.14 337.74 L424.86 338.03 L423.62 338.31 L422.41 338.59 L421.23 338.86 L420.08 339.12 L418.96 339.38 L417.87 339.64 L416.81 339.9 L415.77 340.15 L414.76 340.4 L413.77 340.66 L412.81 340.88 L411.88 341.08 L410.97 341.24 L410.08 341.38 L409.21 341.51 L408.36 341.63 L407.54 341.75 L406.74 341.88 L405.95 342.02 L405.19 342.19 L404.45 342.39 L403.72 342.61 L403.02 342.85 L402.33 343.09 L401.66 343.34 L401 343.6 L400.37 343.87 L399.75 344.14 L399.14 344.42 L398.55 344.71 L397.97 344.99 L397.41 345.29 L396.87 345.58 L396.33 345.88 L395.81 346.18 L395.31 346.49 L394.81 346.81 L394.33 347.12 L393.86 347.45 L393.41 347.78 L392.96 348.11 L392.53 348.45 L392.11 348.8 L391.69 349.15 L391.29 349.52 L390.9 349.88 L390.52 350.26 L390.14 350.64 L389.78 351.02 L389.43 351.42 L389.08 351.81 L388.75 352.22 L388.42 352.63 L388.1 353.04 L387.79 353.47 L387.49 353.9 L387.19 354.33 L386.9 354.78 L386.62 355.23 L386.35 355.69 L386.08 356.15 L385.82 356.62 L385.57 357.09 L385.32 357.57 L385.08 358.05 L384.85 358.54 L384.62 359.03 L384.39 359.54 L384.18 360.05 L383.96 360.57 L383.76 361.11 L383.56 361.66 L383.36 362.22 L383.17 362.79 L382.98 363.39 L382.8 364 L382.62 364.62 L382.45 365.26 L382.28 365.92 L382.12 366.58 L381.96 367.26 L381.8 367.96 L381.65 368.67 L381.5 369.39 L381.36 370.13 L381.22 370.88 L381.08 371.64 L380.95 372.42 L380.82 373.21 L380.69 374.02 L380.57 374.84 L380.45 375.67 L380.33 376.52 L380.21 377.44 L380.1 378.4 L379.99 379.41 L379.89 380.46 L379.78 381.53 L379.68 382.62 L379.59 383.7 L379.49 384.78 L379.4 385.83 L379.31 386.85 L379.22 387.82 L379.13 388.58 L379.05 388.91 L378.96 388.97 L378.88 388.93 L378.81 388.99 L378.8 389 L375.8 389 Z" fill="#e5e6e8"/><line x1="439.1" y1="253" x2="439.1" y2="389" stroke="#d0d0d0" stroke-width="0.9"/><line x1="375.8" y1="321" x2="502.4" y2="321" stroke="#d0d0d0" stroke-width="0.9"/></g>
<rect x="375.8" y="253" width="126.6" height="136" fill="none" stroke="#262626" stroke-width="1.05"/>
</g>
<g><text class="sf" x="339.9" y="12.2" font-size="14.35" text-anchor="middle" fill="#262626" stroke="#262626">Vancomycin-resistant Enterococci</text><g clip-path="url(#c0)"><path d="M33.04 189.2 L33.04 188.97 L33.04 188.84 L33.04 188.64 L33.05 188.4 L33.05 188.11 L33.05 187.78 L33.05 187.4 L33.06 186.99 L33.06 186.55 L33.06 186.08 L33.07 185.58 L33.07 185.05 L33.07 184.51 L33.08 183.94 L33.08 183.36 L33.09 182.76 L33.09 182.15 L33.09 181.52 L33.1 180.88 L33.11 180.24 L33.11 179.59 L33.12 178.93 L33.12 178.27 L33.13 177.6 L33.14 176.94 L33.14 176.27 L33.15 175.6 L33.16 174.93 L33.17 174.26 L33.18 173.59 L33.19 172.92 L33.2 172.26 L33.21 171.6 L33.22 170.95 L33.23 170.3 L33.25 169.66 L33.26 169.02 L33.27 168.38 L33.29 167.76 L33.3 167.13 L33.32 166.52 L33.34 165.91 L33.36 165.31 L33.37 164.72 L33.4 164.13 L33.42 163.56 L33.44 163 L33.46 162.47 L33.49 161.96 L33.52 161.46 L33.54 160.97 L33.57 160.5 L33.6 160.03 L33.64 159.56 L33.67 159.1 L33.71 158.64 L33.75 158.18 L33.79 157.73 L33.83 157.26 L33.87 156.8 L33.92 156.33 L33.97 155.86 L34.02 155.39 L34.08 154.9 L34.14 154.42 L34.2 153.92 L34.27 153.42 L34.34 152.91 L34.41 152.4 L34.48 151.87 L34.57 151.34 L34.65 150.81 L34.74 150.26 L34.83 149.71 L34.93 149.16 L35.04 148.59 L35.15 148.02 L35.27 147.46 L35.39 146.89 L35.52 146.32 L35.66 145.76 L35.8 145.21 L35.95 144.66 L36.11 144.11 L36.28 143.58 L36.46 143.05 L36.65 142.54 L36.85 142.03 L37.06 141.53 L37.28 141.05 L37.51 140.57 L37.76 140.11 L38.02 139.66 L38.29 139.23 L38.58 138.81 L38.88 138.39 L39.2 137.98 L39.53 137.57 L39.89 137.17 L40.26 136.77 L40.66 136.36 L41.08 135.96 L41.51 135.55 L41.98 135.15 L42.46 134.73 L42.98 134.33 L43.52 133.92 L44.09 133.52 L44.7 133.13 L45.33 132.76 L46 132.39 L46.71 132.04 L47.45 131.71 L48.24 131.4 L49.07 131.1 L49.94 130.8 L50.86 130.52 L51.83 130.25 L52.86 129.97 L53.94 129.7 L55.07 129.43 L56.27 129.16 L57.54 128.89 L58.87 128.62 L60.28 128.36 L61.76 128.1 L63.33 127.86 L64.97 127.62 L66.71 127.4 L68.54 127.19 L70.48 126.98 L72.51 126.77 L74.66 126.56 L76.92 126.34 L79.31 126.11 L81.83 125.87 L84.48 125.61 L87.28 125.33 L90.23 125.05 L93.34 124.77 L96.62 124.51 L100.08 124.28 L103.73 124.05 L107.57 123.83 L111.62 123.62 L115.9 123.43 L120.4 123.24 L125.15 123.07 L130.16 122.9 L135.44 122.73 L141.01 122.58 L146.88 122.43 L153.07 122.3 L159.6 122.2" fill="none" stroke="#ec3440" stroke-width="1.35"/><path d="M33.6 53.5 L33.6 53.5 L33.62 54.37 L33.64 55.23 L33.67 56.08 L33.69 56.92 L33.72 57.75 L33.74 58.57 L33.77 59.38 L33.8 60.18 L33.83 60.97 L33.86 61.75 L33.89 62.52 L33.92 63.27 L33.95 64.02 L33.99 64.75 L34.02 65.47 L34.06 66.17 L34.1 66.87 L34.14 67.55 L34.18 68.22 L34.22 68.88 L34.27 69.51 L34.32 70.13 L34.36 70.74 L34.41 71.33 L34.46 71.9 L34.52 72.47 L34.57 73.03 L34.63 73.58 L34.69 74.12 L34.75 74.65 L34.81 75.18 L34.88 75.7 L34.95 76.22 L35.02 76.74 L35.09 77.26 L35.17 77.77 L35.25 78.29 L35.33 78.8 L35.41 79.32 L35.5 79.83 L35.59 80.35 L35.69 80.87 L35.78 81.39 L35.88 81.92 L35.99 82.44 L36.1 82.97 L36.21 83.49 L36.33 84.01 L36.45 84.52 L36.57 85.03 L36.7 85.53 L36.84 86.03 L36.98 86.52 L37.12 87.01 L37.27 87.48 L37.42 87.95 L37.59 88.41 L37.75 88.86 L37.92 89.3 L38.1 89.74 L38.29 90.16 L38.48 90.57 L38.68 90.97 L38.89 91.36 L39.1 91.74 L39.32 92.1 L39.55 92.47 L39.79 92.82 L40.04 93.18 L40.29 93.53 L40.56 93.88 L40.83 94.23 L41.12 94.59 L41.41 94.94 L41.72 95.3 L42.03 95.66 L42.36 96.02 L42.7 96.37 L43.05 96.72 L43.42 97.06 L43.8 97.39 L44.19 97.73 L44.6 98.05 L45.02 98.38 L45.45 98.7 L45.91 99.01 L46.37 99.33 L46.86 99.64 L47.36 99.95 L47.88 100.26 L48.43 100.58 L48.99 100.89 L49.57 101.2 L50.17 101.51 L50.79 101.81 L51.44 102.11 L52.11 102.4 L52.8 102.67 L53.52 102.94 L54.27 103.2 L55.04 103.45 L55.84 103.69 L56.67 103.92 L57.53 104.15 L58.42 104.38 L59.34 104.6 L60.3 104.81 L61.29 105.03 L62.32 105.23 L63.38 105.44 L64.49 105.65 L65.63 105.85 L66.82 106.07 L68.04 106.28 L69.32 106.49 L70.64 106.7 L72 106.91 L73.42 107.12 L74.89 107.32 L76.41 107.52 L77.99 107.72 L79.62 107.9 L81.31 108.09 L83.07 108.26 L84.89 108.44 L86.77 108.61 L88.73 108.78 L90.75 108.94 L92.85 109.1 L95.02 109.26 L97.27 109.41 L99.61 109.57 L102.03 109.72 L104.53 109.86 L107.13 110 L109.83 110.14 L112.62 110.26 L115.51 110.38 L118.5 110.49 L121.61 110.6 L124.83 110.7 L128.16 110.8 L131.62 110.9 L135.2 110.99 L138.92 111.08 L142.76 111.15 L146.75 111.2 L150.88 111.23 L155.16 111.26 L159.6 111.3" fill="none" stroke="#ec3440" stroke-width="1.35"/><line x1="33" y1="116.9" x2="159.6" y2="116.9" stroke="#ec9278" stroke-width="1.4" stroke-dasharray="5.5 2"/><path d="M34.6 115 l2.4 -1.5 v3 z" fill="#1e1e1e"/><text class="ss" transform="translate(36.6 117.1) scale(0.86 1)" font-size="5.9" font-weight="bold" fill="#1e1e1e" stroke="#1e1e1e" stroke-width="0.3">VAL</text><path d="M38 114.8 l2.4 -1.5 v3 z" fill="#1e1e1e"/><text class="ss" transform="translate(40 116.9) scale(0.86 1)" font-size="5.9" font-weight="bold" fill="#1e1e1e" stroke="#1e1e1e" stroke-width="0.3">PIE</text><path d="M42.5 113.5 l2.4 -1.5 v3 z" fill="#1e1e1e"/><text class="ss" transform="translate(44.5 115.6) scale(0.86 1)" font-size="5.9" font-weight="bold" fill="#1e1e1e" stroke="#1e1e1e" stroke-width="0.3">ABR</text><path d="M44.5 112.3 l2.4 -1.5 v3 z" fill="#1e1e1e"/><text class="ss" transform="translate(46.5 114.4) scale(0.86 1)" font-size="5.9" font-weight="bold" fill="#1e1e1e" stroke="#1e1e1e" stroke-width="0.3">UMB</text><path d="M47 113 l2.4 -1.5 v3 z" fill="#1e1e1e"/><text class="ss" transform="translate(49 115.1) scale(0.86 1)" font-size="5.9" font-weight="bold" fill="#1e1e1e" stroke="#1e1e1e" stroke-width="0.3">EMI</text><path d="M51.5 114.6 l2.4 -1.5 v3 z" fill="#1e1e1e"/><text class="ss" transform="translate(53.5 116.7) scale(0.86 1)" font-size="5.9" font-weight="bold" fill="#1e1e1e" stroke="#1e1e1e" stroke-width="0.3">CAM</text><path d="M33.5 120 l2.4 -1.5 v3 z" fill="#1e1e1e"/><text class="ss" transform="translate(35.5 122.1) scale(0.86 1)" font-size="5.9" font-weight="bold" fill="#1e1e1e" stroke="#1e1e1e" stroke-width="0.3">BAS</text><path d="M34.5 122.3 l2.4 -1.5 v3 z" fill="#1e1e1e"/><text class="ss" transform="translate(36.5 124.4) scale(0.86 1)" font-size="5.9" font-weight="bold" fill="#1e1e1e" stroke="#1e1e1e" stroke-width="0.3">SAR</text><path d="M37 121.2 l2.4 -1.5 v3 z" fill="#1e1e1e"/><text class="ss" transform="translate(39 123.3) scale(0.86 1)" font-size="5.9" font-weight="bold" fill="#1e1e1e" stroke="#1e1e1e" stroke-width="0.3">PUG</text><path d="M36.5 119.8 l2.4 -1.5 v3 z" fill="#1e1e1e"/><text class="ss" transform="translate(38.5 121.9) scale(0.86 1)" font-size="5.9" font-weight="bold" fill="#1e1e1e" stroke="#1e1e1e" stroke-width="0.3">MAR</text><path d="M52 121.6 l2.4 -1.5 v3 z" fill="#1e1e1e"/><text class="ss" transform="translate(54 123.7) scale(0.86 1)" font-size="5.9" font-weight="bold" fill="#1e1e1e" stroke="#1e1e1e" stroke-width="0.3">LOM</text><path d="M40 130.2 l2.4 -1.5 v3 z" fill="#1e1e1e"/><text class="ss" transform="translate(42 132.3) scale(0.86 1)" font-size="5.9" font-weight="bold" fill="#1e1e1e" stroke="#1e1e1e" stroke-width="0.3">LAZ</text><path d="M33.2 133 l2.4 -1.5 v3 z" fill="#1e1e1e"/><text class="ss" transform="translate(35.2 135.1) scale(0.86 1)" font-size="5.9" font-weight="bold" fill="#1e1e1e" stroke="#1e1e1e" stroke-width="0.3">SIC</text><path d="M34 139.6 l2.4 -1.5 v3 z" fill="#1e1e1e"/><text class="ss" transform="translate(36 141.7) scale(0.86 1)" font-size="5.9" font-weight="bold" fill="#1e1e1e" stroke="#1e1e1e" stroke-width="0.3">LIG</text><path d="M36.5 145 l2.4 -1.5 v3 z" fill="#1e1e1e"/><text class="ss" transform="translate(38.5 147.1) scale(0.86 1)" font-size="5.9" font-weight="bold" fill="#1e1e1e" stroke="#1e1e1e" stroke-width="0.3">TRE</text></g><text class="ss" font-size="9" fill="#3c3c3c" stroke="#3c3c3c" text-anchor="end"><tspan x="28.5" y="56.7">0.5</tspan><tspan x="28.5" y="124.55">0</tspan><tspan x="28.5" y="192.4">-0.5</tspan></text><text class="ss" font-size="9" fill="#3c3c3c" stroke="#3c3c3c" text-anchor="middle"><tspan x="32.4" y="201">0</tspan><tspan x="95.8" y="201">500</tspan><tspan x="159.2" y="201">1000</tspan></text><text class="sf" x="96.3" y="36.6" font-size="9.85" font-weight="bold" text-anchor="middle" fill="#262626" stroke="#262626" stroke-width="0.08">m = 0.02 (SE =0.02), <tspan font-style="italic" stroke-width="0.5">σ</tspan> = 0.46</text><text class="sf" x="96.3" y="49.8" font-size="10" text-anchor="middle" fill="#262626" stroke="#262626">Funnel plot</text><text class="sf" x="95.5" y="214.4" font-size="9.8" text-anchor="middle" fill="#262626" stroke="#262626">AST2016-17</text><text class="sf" transform="translate(8.5 121.35) rotate(-90)" x="0" y="0" font-size="9.9" text-anchor="middle" fill="#262626" stroke="#262626">Derivatives AMR2016-17</text><g clip-path="url(#c1)"><path d="M204.4 189.2 L204.41 188.82 L204.41 188.51 L204.42 188.17 L204.43 187.82 L204.44 187.46 L204.45 187.08 L204.47 186.68 L204.48 186.27 L204.49 185.85 L204.5 185.41 L204.51 184.97 L204.53 184.52 L204.54 184.06 L204.56 183.59 L204.57 183.11 L204.59 182.63 L204.61 182.14 L204.62 181.69 L204.64 181.28 L204.66 180.89 L204.68 180.52 L204.7 180.17 L204.72 179.82 L204.75 179.48 L204.77 179.13 L204.79 178.77 L204.82 178.39 L204.85 178 L204.88 177.58 L204.91 177.14 L204.94 176.67 L204.97 176.17 L205 175.63 L205.04 175.06 L205.07 174.45 L205.11 173.79 L205.15 173.1 L205.19 172.36 L205.23 171.58 L205.28 170.76 L205.33 169.89 L205.37 168.97 L205.43 168.02 L205.48 167.06 L205.53 166.1 L205.59 165.15 L205.65 164.22 L205.72 163.3 L205.78 162.4 L205.85 161.52 L205.92 160.66 L206 159.83 L206.08 159.03 L206.16 158.27 L206.24 157.56 L206.33 156.89 L206.42 156.26 L206.52 155.67 L206.62 155.11 L206.73 154.57 L206.84 154.06 L206.95 153.56 L207.07 153.08 L207.2 152.6 L207.33 152.14 L207.46 151.68 L207.6 151.22 L207.75 150.77 L207.91 150.31 L208.07 149.85 L208.23 149.38 L208.41 148.91 L208.59 148.45 L208.78 148 L208.98 147.56 L209.19 147.13 L209.41 146.69 L209.63 146.26 L209.87 145.83 L210.12 145.39 L210.37 144.95 L210.64 144.5 L210.92 144.04 L211.21 143.58 L211.52 143.13 L211.84 142.67 L212.17 142.23 L212.52 141.78 L212.88 141.35 L213.25 140.92 L213.65 140.5 L214.06 140.1 L214.49 139.7 L214.93 139.32 L215.4 138.95 L215.89 138.59 L216.4 138.24 L216.93 137.91 L217.48 137.58 L218.06 137.25 L218.66 136.92 L219.29 136.6 L219.94 136.27 L220.63 135.95 L221.34 135.62 L222.09 135.28 L222.86 134.94 L223.67 134.6 L224.52 134.25 L225.4 133.91 L226.32 133.57 L227.29 133.23 L228.29 132.9 L229.34 132.58 L230.43 132.27 L231.57 131.98 L232.76 131.71 L234 131.47 L235.3 131.27 L236.65 131.08 L238.06 130.91 L239.53 130.75 L241.06 130.6 L242.67 130.44 L244.34 130.27 L246.08 130.09 L247.9 129.9 L249.8 129.68 L251.78 129.44 L253.85 129.16 L256.01 128.86 L258.26 128.55 L260.61 128.25 L263.06 127.97 L265.62 127.73 L268.29 127.53 L271.08 127.36 L273.98 127.21 L277.02 127.07 L280.18 126.94 L283.48 126.81 L286.93 126.69 L290.53 126.56 L294.28 126.42 L298.19 126.27 L302.28 126.11 L306.54 125.93 L310.99 125.74 L315.63 125.55 L320.47 125.36 L325.53 125.17 L330.8 125" fill="none" stroke="#ec3440" stroke-width="1.35"/><path d="M204.4 53.5 L204.41 53.57 L204.41 53.7 L204.42 53.84 L204.43 54 L204.44 54.17 L204.45 54.36 L204.47 54.57 L204.48 54.8 L204.49 55.04 L204.5 55.3 L204.51 55.59 L204.53 55.88 L204.54 56.2 L204.56 56.54 L204.57 56.89 L204.59 57.26 L204.61 57.65 L204.62 58.05 L204.64 58.47 L204.66 58.91 L204.68 59.37 L204.7 59.84 L204.72 60.33 L204.75 60.84 L204.77 61.35 L204.79 61.89 L204.82 62.44 L204.85 63 L204.88 63.57 L204.91 64.16 L204.94 64.75 L204.97 65.35 L205 65.95 L205.04 66.55 L205.07 67.16 L205.11 67.76 L205.15 68.36 L205.19 68.96 L205.23 69.56 L205.28 70.15 L205.33 70.74 L205.37 71.31 L205.43 71.88 L205.48 72.44 L205.53 72.99 L205.59 73.53 L205.65 74.06 L205.72 74.59 L205.78 75.13 L205.85 75.66 L205.92 76.2 L206 76.74 L206.08 77.29 L206.16 77.85 L206.24 78.42 L206.33 79 L206.42 79.6 L206.52 80.21 L206.62 80.82 L206.73 81.42 L206.84 82.02 L206.95 82.59 L207.07 83.15 L207.2 83.68 L207.33 84.18 L207.46 84.63 L207.6 85.06 L207.75 85.46 L207.91 85.86 L208.07 86.26 L208.23 86.66 L208.41 87.07 L208.59 87.51 L208.78 87.97 L208.98 88.46 L209.19 88.97 L209.41 89.49 L209.63 90 L209.87 90.52 L210.12 91.03 L210.37 91.54 L210.64 92.04 L210.92 92.53 L211.21 93.01 L211.52 93.48 L211.84 93.93 L212.17 94.37 L212.52 94.8 L212.88 95.23 L213.25 95.66 L213.65 96.09 L214.06 96.54 L214.49 97 L214.93 97.57 L215.4 98.23 L215.89 98.92 L216.4 99.57 L216.93 100.12 L217.48 100.62 L218.06 101.1 L218.66 101.57 L219.29 102.03 L219.94 102.46 L220.63 102.88 L221.34 103.28 L222.09 103.65 L222.86 104.01 L223.67 104.35 L224.52 104.67 L225.4 104.96 L226.32 105.23 L227.29 105.47 L228.29 105.68 L229.34 105.88 L230.43 106.07 L231.57 106.26 L232.76 106.45 L234 106.65 L235.3 106.85 L236.65 107.05 L238.06 107.25 L239.53 107.45 L241.06 107.64 L242.67 107.83 L244.34 108.01 L246.08 108.19 L247.9 108.37 L249.8 108.54 L251.78 108.71 L253.85 108.87 L256.01 109.03 L258.26 109.18 L260.61 109.33 L263.06 109.47 L265.62 109.61 L268.29 109.75 L271.08 109.86 L273.98 109.97 L277.02 110.06 L280.18 110.16 L283.48 110.25 L286.93 110.35 L290.53 110.46 L294.28 110.59 L298.19 110.73 L302.28 110.89 L306.54 111.05 L310.99 111.21 L315.63 111.36 L320.47 111.51 L325.53 111.66 L330.8 111.8" fill="none" stroke="#ec3440" stroke-width="1.35"/><line x1="204.2" y1="118.6" x2="330.8" y2="118.6" stroke="#ec9278" stroke-width="1.4" stroke-dasharray="5.5 2"/><path d="M204.8 54.2 l2.4 -1.5 v3 z" fill="#1e1e1e"/><text class="ss" transform="translate(206.8 56.3) scale(0.86 1)" font-size="5.9" font-weight="bold" fill="#1e1e1e" stroke="#1e1e1e" stroke-width="0.3">MOL</text><path d="M205 79.6 l2.4 -1.5 v3 z" fill="#1e1e1e"/><text class="ss" transform="translate(207 81.7) scale(0.86 1)" font-size="5.9" font-weight="bold" fill="#1e1e1e" stroke="#1e1e1e" stroke-width="0.3">LIG</text><path d="M204.8 89 l2.4 -1.5 v3 z" fill="#1e1e1e"/><text class="ss" transform="translate(206.8 91.1) scale(0.86 1)" font-size="5.9" font-weight="bold" fill="#1e1e1e" stroke="#1e1e1e" stroke-width="0.3">BAS</text><path d="M207.5 88.5 l2.4 -1.5 v3 z" fill="#1e1e1e"/><text class="ss" transform="translate(209.5 90.6) scale(0.86 1)" font-size="5.9" font-weight="bold" fill="#1e1e1e" stroke="#1e1e1e" stroke-width="0.3">UMB</text><path d="M207.2 94.3 l2.4 -1.5 v3 z" fill="#1e1e1e"/><text class="ss" transform="translate(209.2 96.4) scale(0.86 1)" font-size="5.9" font-weight="bold" fill="#1e1e1e" stroke="#1e1e1e" stroke-width="0.3">PIE</text><path d="M210 111.3 l2.4 -1.5 v3 z" fill="#1e1e1e"/><text class="ss" transform="translate(212 113.4) scale(0.86 1)" font-size="5.9" font-weight="bold" fill="#1e1e1e" stroke="#1e1e1e" stroke-width="0.3">VEN</text><path d="M226 111.3 l2.4 -1.5 v3 z" fill="#1e1e1e"/><text class="ss" transform="translate(228 113.4) scale(0.86 1)" font-size="5.9" font-weight="bold" fill="#1e1e1e" stroke="#1e1e1e" stroke-width="0.3">EMI</text><path d="M206 116 l2.4 -1.5 v3 z" fill="#1e1e1e"/><text class="ss" transform="translate(208 118.1) scale(0.86 1)" font-size="5.9" font-weight="bold" fill="#1e1e1e" stroke="#1e1e1e" stroke-width="0.3">SAR</text><path d="M208 115.5 l2.4 -1.5 v3 z" fill="#1e1e1e"/><text class="ss" transform="translate(210 117.6) scale(0.86 1)" font-size="5.9" font-weight="bold" fill="#1e1e1e" stroke="#1e1e1e" stroke-width="0.3">LAZ</text><path d="M228 115 l2.4 -1.5 v3 z" fill="#1e1e1e"/><text class="ss" transform="translate(230 117.1) scale(0.86 1)" font-size="5.9" font-weight="bold" fill="#1e1e1e" stroke="#1e1e1e" stroke-width="0.3">LOM</text><path d="M226 113 l2.4 -1.5 v3 z" fill="#1e1e1e"/><text class="ss" transform="translate(228 115.1) scale(0.86 1)" font-size="5.9" font-weight="bold" fill="#1e1e1e" stroke="#1e1e1e" stroke-width="0.3">CAM</text><path d="M205.8 121.8 l2.4 -1.5 v3 z" fill="#1e1e1e"/><text class="ss" transform="translate(207.8 123.9) scale(0.86 1)" font-size="5.9" font-weight="bold" fill="#1e1e1e" stroke="#1e1e1e" stroke-width="0.3">BOL</text><path d="M218 121.8 l2.4 -1.5 v3 z" fill="#1e1e1e"/><text class="ss" transform="translate(220 123.9) scale(0.86 1)" font-size="5.9" font-weight="bold" fill="#1e1e1e" stroke="#1e1e1e" stroke-width="0.3">TOS</text><path d="M205.8 127.5 l2.4 -1.5 v3 z" fill="#1e1e1e"/><text class="ss" transform="translate(207.8 129.6) scale(0.86 1)" font-size="5.9" font-weight="bold" fill="#1e1e1e" stroke="#1e1e1e" stroke-width="0.3">SIC</text><path d="M206.5 129 l2.4 -1.5 v3 z" fill="#1e1e1e"/><text class="ss" transform="translate(208.5 131.1) scale(0.86 1)" font-size="5.9" font-weight="bold" fill="#1e1e1e" stroke="#1e1e1e" stroke-width="0.3">ABR</text><path d="M204.5 132.4 l2.4 -1.5 v3 z" fill="#1e1e1e"/><text class="ss" transform="translate(206.5 134.5) scale(0.86 1)" font-size="5.9" font-weight="bold" fill="#1e1e1e" stroke="#1e1e1e" stroke-width="0.3">MAR</text><path d="M206 131 l2.4 -1.5 v3 z" fill="#1e1e1e"/><text class="ss" transform="translate(208 133.1) scale(0.86 1)" font-size="5.9" font-weight="bold" fill="#1e1e1e" stroke="#1e1e1e" stroke-width="0.3">FVG</text><path d="M205.3 139.6 l2.4 -1.5 v3 z" fill="#1e1e1e"/><text class="ss" transform="translate(207.3 141.7) scale(0.86 1)" font-size="5.9" font-weight="bold" fill="#1e1e1e" stroke="#1e1e1e" stroke-width="0.3">CAL</text><path d="M212 139.6 l2.4 -1.5 v3 z" fill="#1e1e1e"/><text class="ss" transform="translate(214 141.7) scale(0.86 1)" font-size="5.9" font-weight="bold" fill="#1e1e1e" stroke="#1e1e1e" stroke-width="0.3">TRE</text><path d="M204.5 119.5 l2.4 -1.5 v3 z" fill="#1e1e1e"/><text class="ss" transform="translate(206.5 121.6) scale(0.86 1)" font-size="5.9" font-weight="bold" fill="#1e1e1e" stroke="#1e1e1e" stroke-width="0.3">VAL</text><path d="M206 124 l2.4 -1.5 v3 z" fill="#1e1e1e"/><text class="ss" transform="translate(208 126.1) scale(0.86 1)" font-size="5.9" font-weight="bold" fill="#1e1e1e" stroke="#1e1e1e" stroke-width="0.3">PUG</text></g><text class="ss" font-size="9" fill="#3c3c3c" stroke="#3c3c3c" text-anchor="end"><tspan x="199.7" y="56.7">0.5</tspan><tspan x="199.7" y="124.55">0</tspan><tspan x="199.7" y="192.4">-0.5</tspan></text><text class="ss" font-size="9" fill="#3c3c3c" stroke="#3c3c3c" text-anchor="middle"><tspan x="203.6" y="201">0</tspan><tspan x="267" y="201">500</tspan><tspan x="330.4" y="201">1000</tspan></text><text class="sf" x="267.5" y="36.6" font-size="9.85" font-weight="bold" text-anchor="middle" fill="#262626" stroke="#262626" stroke-width="0.08">m = 0.04 (SE =0.01), <tspan font-style="italic" stroke-width="0.5">σ</tspan> = 0.76</text><text class="sf" x="267.5" y="49.8" font-size="10" text-anchor="middle" fill="#262626" stroke="#262626">Funnel plot</text><text class="sf" x="266.7" y="214.4" font-size="9.8" text-anchor="middle" fill="#262626" stroke="#262626">AST2017-18</text><text class="sf" transform="translate(179.7 121.35) rotate(-90)" x="0" y="0" font-size="9.9" text-anchor="middle" fill="#262626" stroke="#262626">Derivatives AMR2017-18</text><g clip-path="url(#c2)"><path d="M377.5 189.2 L377.54 188.47 L377.59 187.54 L377.64 186.61 L377.7 185.69 L377.75 184.8 L377.81 183.92 L377.87 183.08 L377.93 182.28 L378 181.54 L378.06 180.84 L378.13 180.19 L378.2 179.57 L378.27 178.99 L378.34 178.43 L378.42 177.89 L378.49 177.37 L378.57 176.85 L378.65 176.35 L378.74 175.84 L378.83 175.33 L378.92 174.81 L379.01 174.28 L379.1 173.73 L379.2 173.17 L379.3 172.59 L379.41 172.01 L379.51 171.46 L379.62 170.91 L379.73 170.38 L379.85 169.84 L379.97 169.3 L380.09 168.74 L380.22 168.16 L380.35 167.56 L380.49 166.93 L380.63 166.26 L380.77 165.56 L380.92 164.82 L381.07 164.07 L381.22 163.33 L381.38 162.58 L381.55 161.84 L381.72 161.1 L381.89 160.36 L382.08 159.64 L382.26 158.92 L382.45 158.22 L382.65 157.53 L382.85 156.86 L383.06 156.19 L383.28 155.53 L383.5 154.87 L383.72 154.22 L383.96 153.57 L384.2 152.94 L384.45 152.32 L384.71 151.72 L384.97 151.13 L385.24 150.56 L385.52 150.01 L385.81 149.49 L386.1 148.98 L386.41 148.47 L386.72 147.98 L387.05 147.5 L387.38 147.02 L387.72 146.55 L388.07 146.08 L388.44 145.63 L388.81 145.18 L389.2 144.73 L389.59 144.29 L390 143.84 L390.42 143.4 L390.85 142.95 L391.3 142.51 L391.76 142.08 L392.23 141.65 L392.72 141.23 L393.22 140.82 L393.73 140.42 L394.26 140.03 L394.81 139.65 L395.37 139.29 L395.95 138.95 L396.55 138.63 L397.16 138.32 L397.8 138.02 L398.45 137.74 L399.12 137.47 L399.81 137.2 L400.52 136.93 L401.25 136.67 L402 136.41 L402.78 136.14 L403.58 135.87 L404.4 135.6 L405.25 135.34 L406.12 135.08 L407.02 134.83 L407.94 134.58 L408.89 134.33 L409.87 134.08 L410.88 133.83 L411.92 133.59 L412.99 133.34 L414.09 133.09 L415.22 132.85 L416.39 132.6 L417.59 132.35 L418.82 132.09 L420.1 131.84 L421.41 131.58 L422.76 131.32 L424.15 131.06 L425.58 130.8 L427.05 130.54 L428.57 130.28 L430.13 130.03 L431.74 129.78 L433.4 129.53 L435.1 129.29 L436.86 129.05 L438.66 128.81 L440.52 128.57 L442.44 128.33 L444.41 128.09 L446.44 127.85 L448.53 127.58 L450.69 127.31 L452.9 127.04 L455.19 126.81 L457.54 126.62 L459.96 126.45 L462.45 126.27 L465.01 126.11 L467.65 125.94 L470.37 125.78 L473.17 125.64 L476.05 125.54 L479.02 125.46 L482.07 125.4 L485.22 125.34 L488.46 125.28 L491.79 125.25 L495.23 125.23 L498.76 125.22 L502.4 125.2" fill="none" stroke="#ec3440" stroke-width="1.35"/><path d="M378 53.5 L378 53.53 L378.07 53.96 L378.13 54.38 L378.19 54.8 L378.26 55.2 L378.33 55.61 L378.4 56.01 L378.47 56.42 L378.55 56.83 L378.62 57.24 L378.7 57.67 L378.78 58.11 L378.87 58.56 L378.95 59.03 L379.04 59.51 L379.13 60.02 L379.22 60.54 L379.32 61.07 L379.42 61.62 L379.52 62.17 L379.62 62.73 L379.73 63.28 L379.84 63.84 L379.95 64.39 L380.07 64.94 L380.19 65.49 L380.31 66.03 L380.44 66.55 L380.57 67.07 L380.7 67.59 L380.84 68.1 L380.98 68.61 L381.12 69.11 L381.27 69.61 L381.42 70.1 L381.58 70.59 L381.74 71.09 L381.91 71.58 L382.08 72.06 L382.25 72.55 L382.43 73.04 L382.62 73.52 L382.81 74 L383.01 74.48 L383.21 74.96 L383.42 75.43 L383.63 75.89 L383.85 76.35 L384.07 76.8 L384.3 77.25 L384.54 77.69 L384.78 78.12 L385.04 78.54 L385.29 78.96 L385.56 79.36 L385.83 79.77 L386.11 80.17 L386.4 80.58 L386.7 80.99 L387 81.4 L387.31 81.82 L387.63 82.24 L387.97 82.66 L388.31 83.07 L388.66 83.48 L389.01 83.89 L389.38 84.3 L389.76 84.7 L390.15 85.09 L390.55 85.48 L390.97 85.86 L391.39 86.23 L391.83 86.6 L392.27 86.96 L392.73 87.31 L393.21 87.65 L393.69 87.97 L394.19 88.27 L394.71 88.56 L395.24 88.84 L395.78 89.11 L396.34 89.37 L396.91 89.63 L397.5 89.88 L398.11 90.13 L398.73 90.39 L399.37 90.65 L400.03 90.89 L400.71 91.13 L401.4 91.36 L402.12 91.58 L402.85 91.8 L403.61 92.02 L404.39 92.24 L405.18 92.46 L406.01 92.69 L406.85 92.92 L407.72 93.16 L408.61 93.41 L409.53 93.67 L410.47 93.94 L411.44 94.23 L412.43 94.54 L413.46 94.88 L414.51 95.22 L415.59 95.58 L416.7 95.94 L417.84 96.3 L419.02 96.66 L420.23 97 L421.47 97.33 L422.74 97.64 L424.06 97.94 L425.4 98.23 L426.79 98.52 L428.21 98.8 L429.68 99.08 L431.18 99.34 L432.73 99.6 L434.32 99.85 L435.96 100.08 L437.64 100.3 L439.37 100.51 L441.14 100.7 L442.97 100.9 L444.85 101.09 L446.77 101.28 L448.76 101.5 L450.8 101.75 L452.89 102 L455.05 102.24 L457.26 102.44 L459.54 102.61 L461.88 102.78 L464.28 102.93 L466.75 103.09 L469.29 103.24 L471.91 103.39 L474.59 103.55 L477.35 103.7 L480.19 103.84 L483.11 103.99 L486.1 104.13 L489.19 104.27 L492.35 104.37 L495.61 104.4 L498.96 104.39 L502.4 104.4" fill="none" stroke="#ec3440" stroke-width="1.35"/><line x1="375.8" y1="114.8" x2="502.4" y2="114.8" stroke="#ec9278" stroke-width="1.4" stroke-dasharray="5.5 2"/><path d="M375.8 87.7 l2.4 -1.5 v3 z" fill="#1e1e1e"/><text class="ss" transform="translate(377.8 89.8) scale(0.86 1)" font-size="5.9" font-weight="bold" fill="#1e1e1e" stroke="#1e1e1e" stroke-width="0.3">CAL</text><path d="M378.7 92.2 l2.4 -1.5 v3 z" fill="#1e1e1e"/><text class="ss" transform="translate(380.7 94.3) scale(0.86 1)" font-size="5.9" font-weight="bold" fill="#1e1e1e" stroke="#1e1e1e" stroke-width="0.3">TRE</text><path d="M376.3 105.2 l2.4 -1.5 v3 z" fill="#1e1e1e"/><text class="ss" transform="translate(378.3 107.3) scale(0.86 1)" font-size="5.9" font-weight="bold" fill="#1e1e1e" stroke="#1e1e1e" stroke-width="0.3">LIG</text><path d="M379.7 112.3 l2.4 -1.5 v3 z" fill="#1e1e1e"/><text class="ss" transform="translate(381.7 114.4) scale(0.86 1)" font-size="5.9" font-weight="bold" fill="#1e1e1e" stroke="#1e1e1e" stroke-width="0.3">SIC</text><path d="M383 112 l2.4 -1.5 v3 z" fill="#1e1e1e"/><text class="ss" transform="translate(385 114.1) scale(0.86 1)" font-size="5.9" font-weight="bold" fill="#1e1e1e" stroke="#1e1e1e" stroke-width="0.3">BOL</text><path d="M388 112.5 l2.4 -1.5 v3 z" fill="#1e1e1e"/><text class="ss" transform="translate(390 114.6) scale(0.86 1)" font-size="5.9" font-weight="bold" fill="#1e1e1e" stroke="#1e1e1e" stroke-width="0.3">LAZ</text><path d="M395 114 l2.4 -1.5 v3 z" fill="#1e1e1e"/><text class="ss" transform="translate(397 116.1) scale(0.86 1)" font-size="5.9" font-weight="bold" fill="#1e1e1e" stroke="#1e1e1e" stroke-width="0.3">LOM</text><path d="M404.2 118 l2.4 -1.5 v3 z" fill="#1e1e1e"/><text class="ss" transform="translate(406.2 120.1) scale(0.86 1)" font-size="5.9" font-weight="bold" fill="#1e1e1e" stroke="#1e1e1e" stroke-width="0.3">CAM</text><path d="M381.6 120.8 l2.4 -1.5 v3 z" fill="#1e1e1e"/><text class="ss" transform="translate(383.6 122.9) scale(0.86 1)" font-size="5.9" font-weight="bold" fill="#1e1e1e" stroke="#1e1e1e" stroke-width="0.3">PUG</text><path d="M376 121.5 l2.4 -1.5 v3 z" fill="#1e1e1e"/><text class="ss" transform="translate(378 123.6) scale(0.86 1)" font-size="5.9" font-weight="bold" fill="#1e1e1e" stroke="#1e1e1e" stroke-width="0.3">MAR</text><path d="M377.5 123.5 l2.4 -1.5 v3 z" fill="#1e1e1e"/><text class="ss" transform="translate(379.5 125.6) scale(0.86 1)" font-size="5.9" font-weight="bold" fill="#1e1e1e" stroke="#1e1e1e" stroke-width="0.3">BAS</text><path d="M379 126 l2.4 -1.5 v3 z" fill="#1e1e1e"/><text class="ss" transform="translate(381 128.1) scale(0.86 1)" font-size="5.9" font-weight="bold" fill="#1e1e1e" stroke="#1e1e1e" stroke-width="0.3">UMB</text><path d="M376 136 l2.4 -1.5 v3 z" fill="#1e1e1e"/><text class="ss" transform="translate(378 138.1) scale(0.86 1)" font-size="5.9" font-weight="bold" fill="#1e1e1e" stroke="#1e1e1e" stroke-width="0.3">VAL</text><path d="M383 135.5 l2.4 -1.5 v3 z" fill="#1e1e1e"/><text class="ss" transform="translate(385 137.6) scale(0.86 1)" font-size="5.9" font-weight="bold" fill="#1e1e1e" stroke="#1e1e1e" stroke-width="0.3">SAR</text><path d="M386 135.2 l2.4 -1.5 v3 z" fill="#1e1e1e"/><text class="ss" transform="translate(388 137.3) scale(0.86 1)" font-size="5.9" font-weight="bold" fill="#1e1e1e" stroke="#1e1e1e" stroke-width="0.3">ABR</text><path d="M413.3 138 l2.4 -1.5 v3 z" fill="#1e1e1e"/><text class="ss" transform="translate(415.3 140.1) scale(0.86 1)" font-size="5.9" font-weight="bold" fill="#1e1e1e" stroke="#1e1e1e" stroke-width="0.3">TOS</text><path d="M433.5 114.4 l2.4 -1.5 v3 z" fill="#1e1e1e"/><text class="ss" transform="translate(435.5 116.5) scale(0.86 1)" font-size="5.9" font-weight="bold" fill="#1e1e1e" stroke="#1e1e1e" stroke-width="0.3">VEN</text><path d="M433.5 118.3 l2.4 -1.5 v3 z" fill="#1e1e1e"/><text class="ss" transform="translate(435.5 120.4) scale(0.86 1)" font-size="5.9" font-weight="bold" fill="#1e1e1e" stroke="#1e1e1e" stroke-width="0.3">EMI</text><path d="M377.5 170.5 l2.4 -1.5 v3 z" fill="#1e1e1e"/><text class="ss" transform="translate(379.5 172.6) scale(0.86 1)" font-size="5.9" font-weight="bold" fill="#1e1e1e" stroke="#1e1e1e" stroke-width="0.3">MOL</text><path d="M385 112.2 l2.4 -1.5 v3 z" fill="#1e1e1e"/><text class="ss" transform="translate(387 114.3) scale(0.86 1)" font-size="5.9" font-weight="bold" fill="#1e1e1e" stroke="#1e1e1e" stroke-width="0.3">PIE</text><path d="M377 124.5 l2.4 -1.5 v3 z" fill="#1e1e1e"/><text class="ss" transform="translate(379 126.6) scale(0.86 1)" font-size="5.9" font-weight="bold" fill="#1e1e1e" stroke="#1e1e1e" stroke-width="0.3">FVG</text></g><text class="ss" font-size="9" fill="#3c3c3c" stroke="#3c3c3c" text-anchor="end"><tspan x="371.3" y="56.7">0.5</tspan><tspan x="371.3" y="124.55">0</tspan><tspan x="371.3" y="192.4">-0.5</tspan></text><text class="ss" font-size="9" fill="#3c3c3c" stroke="#3c3c3c" text-anchor="middle"><tspan x="375.2" y="201">0</tspan><tspan x="438.6" y="201">500</tspan><tspan x="502" y="201">1000</tspan></text><text class="sf" x="439.1" y="36.6" font-size="9.85" font-weight="bold" text-anchor="middle" fill="#262626" stroke="#262626" stroke-width="0.08">m = 0.01 (SE =0.02), <tspan font-style="italic" stroke-width="0.5">σ</tspan> = 0.81</text><text class="sf" x="439.1" y="49.8" font-size="10" text-anchor="middle" fill="#262626" stroke="#262626">Funnel plot</text><text class="sf" x="438.3" y="214.4" font-size="9.8" text-anchor="middle" fill="#262626" stroke="#262626">AST2018-19</text><text class="sf" transform="translate(351.3 121.35) rotate(-90)" x="0" y="0" font-size="9.9" text-anchor="middle" fill="#262626" stroke="#262626">Derivatives AMR2018-19</text><g clip-path="url(#c3)"><path d="M549.4 189.2 L549.42 188.92 L549.5 188.01 L549.57 187.11 L549.65 186.23 L549.73 185.35 L549.82 184.49 L549.9 183.64 L549.99 182.81 L550.08 181.98 L550.17 181.17 L550.26 180.39 L550.36 179.66 L550.46 178.98 L550.56 178.33 L550.66 177.71 L550.77 177.11 L550.88 176.51 L551 175.9 L551.11 175.28 L551.23 174.64 L551.35 173.97 L551.48 173.27 L551.61 172.57 L551.74 171.88 L551.87 171.2 L552.01 170.53 L552.16 169.86 L552.3 169.21 L552.45 168.56 L552.61 167.92 L552.77 167.29 L552.93 166.66 L553.1 166.04 L553.27 165.37 L553.44 164.66 L553.62 163.94 L553.81 163.2 L554 162.47 L554.2 161.74 L554.4 161.03 L554.6 160.36 L554.81 159.72 L555.03 159.12 L555.25 158.55 L555.48 157.99 L555.72 157.44 L555.96 156.9 L556.2 156.38 L556.46 155.86 L556.72 155.35 L556.98 154.86 L557.26 154.38 L557.54 153.91 L557.83 153.46 L558.12 153.02 L558.43 152.59 L558.74 152.17 L559.06 151.75 L559.39 151.35 L559.73 150.95 L560.07 150.56 L560.43 150.17 L560.79 149.79 L561.17 149.42 L561.55 149.04 L561.95 148.68 L562.35 148.32 L562.77 147.96 L563.19 147.61 L563.63 147.27 L564.08 146.93 L564.54 146.59 L565.02 146.27 L565.5 145.95 L566 145.64 L566.51 145.33 L567.04 145.05 L567.58 144.78 L568.13 144.52 L568.7 144.29 L569.28 144.06 L569.88 143.84 L570.5 143.62 L571.13 143.41 L571.78 143.2 L572.44 142.99 L573.12 142.78 L573.82 142.59 L574.54 142.4 L575.28 142.22 L576.04 142.04 L576.81 141.86 L577.61 141.68 L578.43 141.49 L579.27 141.3 L580.13 141.1 L581.02 140.89 L581.92 140.68 L582.86 140.47 L583.81 140.26 L584.8 140.06 L585.8 139.86 L586.84 139.67 L587.9 139.47 L588.99 139.28 L590.11 139.07 L591.26 138.85 L592.44 138.61 L593.65 138.35 L594.89 138.07 L596.16 137.77 L597.47 137.46 L598.81 137.15 L600.19 136.83 L601.6 136.52 L603.06 136.22 L604.55 135.94 L606.08 135.67 L607.65 135.42 L609.26 135.21 L610.91 135 L612.61 134.81 L614.35 134.62 L616.14 134.43 L617.97 134.25 L619.86 134.08 L621.79 133.9 L623.77 133.73 L625.81 133.56 L627.9 133.39 L630.05 133.23 L632.25 133.06 L634.51 132.89 L636.83 132.72 L639.21 132.55 L641.66 132.38 L644.17 132.21 L646.74 132.04 L649.38 131.86 L652.1 131.69 L654.88 131.51 L657.74 131.33 L660.67 131.16 L663.68 130.99 L666.77 130.82 L669.94 130.66 L673.2 130.5" fill="none" stroke="#ec3440" stroke-width="1.35"/><path d="M549.5 53.5 L549.51 53.6 L549.59 54.11 L549.67 54.58 L549.75 55.03 L549.83 55.48 L549.92 55.97 L550 56.52 L550.09 57.14 L550.18 57.86 L550.28 58.66 L550.37 59.47 L550.47 60.28 L550.57 61.09 L550.68 61.9 L550.78 62.69 L550.89 63.47 L551.01 64.24 L551.12 65.02 L551.24 65.79 L551.36 66.54 L551.49 67.29 L551.61 68.02 L551.74 68.73 L551.88 69.42 L552.02 70.08 L552.16 70.73 L552.3 71.37 L552.45 71.99 L552.61 72.61 L552.76 73.22 L552.93 73.82 L553.09 74.42 L553.26 75.01 L553.44 75.61 L553.61 76.22 L553.8 76.83 L553.99 77.45 L554.18 78.06 L554.38 78.67 L554.58 79.28 L554.79 79.88 L555 80.47 L555.22 81.06 L555.45 81.63 L555.68 82.2 L555.92 82.77 L556.16 83.34 L556.41 83.92 L556.67 84.49 L556.93 85.04 L557.2 85.57 L557.48 86.08 L557.77 86.55 L558.06 86.98 L558.36 87.38 L558.67 87.75 L558.98 88.1 L559.31 88.43 L559.64 88.74 L559.98 89.06 L560.33 89.37 L560.69 89.69 L561.06 90.01 L561.44 90.35 L561.82 90.7 L562.22 91.06 L562.63 91.41 L563.05 91.76 L563.48 92.11 L563.92 92.44 L564.38 92.77 L564.84 93.09 L565.32 93.4 L565.81 93.7 L566.31 94 L566.83 94.29 L567.36 94.58 L567.9 94.87 L568.46 95.15 L569.03 95.44 L569.62 95.72 L570.22 96 L570.84 96.28 L571.47 96.57 L572.12 96.85 L572.79 97.12 L573.47 97.4 L574.18 97.66 L574.9 97.93 L575.64 98.18 L576.4 98.43 L577.18 98.66 L577.98 98.87 L578.8 99.07 L579.64 99.27 L580.51 99.47 L581.39 99.67 L582.31 99.87 L583.24 100.06 L584.2 100.25 L585.18 100.44 L586.19 100.63 L587.23 100.84 L588.29 101.06 L589.38 101.29 L590.5 101.52 L591.65 101.75 L592.83 101.97 L594.04 102.19 L595.28 102.41 L596.55 102.63 L597.86 102.84 L599.2 103.05 L600.58 103.25 L601.99 103.44 L603.44 103.6 L604.93 103.75 L606.46 103.89 L608.02 104.05 L609.63 104.24 L611.28 104.44 L612.97 104.63 L614.71 104.82 L616.49 105.01 L618.32 105.2 L620.19 105.38 L622.12 105.57 L624.1 105.75 L626.12 105.93 L628.21 106.11 L630.34 106.28 L632.53 106.45 L634.78 106.63 L637.09 106.79 L639.46 106.96 L641.89 107.13 L644.38 107.32 L646.94 107.52 L649.56 107.72 L652.26 107.94 L655.02 108.15 L657.86 108.37 L660.77 108.59 L663.76 108.8 L666.83 109.01 L669.97 109.21 L673.2 109.4" fill="none" stroke="#ec3440" stroke-width="1.35"/><line x1="546.6" y1="119.5" x2="673.2" y2="119.5" stroke="#ec9278" stroke-width="1.4" stroke-dasharray="5.5 2"/><path d="M547.5 56.4 l2.4 -1.5 v3 z" fill="#1e1e1e"/><text class="ss" transform="translate(549.5 58.5) scale(0.86 1)" font-size="5.9" font-weight="bold" fill="#1e1e1e" stroke="#1e1e1e" stroke-width="0.3">MOL</text><path d="M547.2 92.3 l2.4 -1.5 v3 z" fill="#1e1e1e"/><text class="ss" transform="translate(549.2 94.4) scale(0.86 1)" font-size="5.9" font-weight="bold" fill="#1e1e1e" stroke="#1e1e1e" stroke-width="0.3">CAL</text><path d="M556.5 92.3 l2.4 -1.5 v3 z" fill="#1e1e1e"/><text class="ss" transform="translate(558.5 94.4) scale(0.86 1)" font-size="5.9" font-weight="bold" fill="#1e1e1e" stroke="#1e1e1e" stroke-width="0.3">MAR</text><path d="M549.3 105 l2.4 -1.5 v3 z" fill="#1e1e1e"/><text class="ss" transform="translate(551.3 107.1) scale(0.86 1)" font-size="5.9" font-weight="bold" fill="#1e1e1e" stroke="#1e1e1e" stroke-width="0.3">BAS</text><path d="M561 105 l2.4 -1.5 v3 z" fill="#1e1e1e"/><text class="ss" transform="translate(563 107.1) scale(0.86 1)" font-size="5.9" font-weight="bold" fill="#1e1e1e" stroke="#1e1e1e" stroke-width="0.3">UMB</text><path d="M570.4 108 l2.4 -1.5 v3 z" fill="#1e1e1e"/><text class="ss" transform="translate(572.4 110.1) scale(0.86 1)" font-size="5.9" font-weight="bold" fill="#1e1e1e" stroke="#1e1e1e" stroke-width="0.3">SIC</text><path d="M546.8 111.6 l2.4 -1.5 v3 z" fill="#1e1e1e"/><text class="ss" transform="translate(548.8 113.7) scale(0.86 1)" font-size="5.9" font-weight="bold" fill="#1e1e1e" stroke="#1e1e1e" stroke-width="0.3">VAL</text><path d="M574.2 112.3 l2.4 -1.5 v3 z" fill="#1e1e1e"/><text class="ss" transform="translate(576.2 114.4) scale(0.86 1)" font-size="5.9" font-weight="bold" fill="#1e1e1e" stroke="#1e1e1e" stroke-width="0.3">LAZ</text><path d="M549.3 116.5 l2.4 -1.5 v3 z" fill="#1e1e1e"/><text class="ss" transform="translate(551.3 118.6) scale(0.86 1)" font-size="5.9" font-weight="bold" fill="#1e1e1e" stroke="#1e1e1e" stroke-width="0.3">BOL</text><path d="M571 115.8 l2.4 -1.5 v3 z" fill="#1e1e1e"/><text class="ss" transform="translate(573 117.9) scale(0.86 1)" font-size="5.9" font-weight="bold" fill="#1e1e1e" stroke="#1e1e1e" stroke-width="0.3">LOM</text><path d="M555.8 121.8 l2.4 -1.5 v3 z" fill="#1e1e1e"/><text class="ss" transform="translate(557.8 123.9) scale(0.86 1)" font-size="5.9" font-weight="bold" fill="#1e1e1e" stroke="#1e1e1e" stroke-width="0.3">PUG</text><path d="M558 123 l2.4 -1.5 v3 z" fill="#1e1e1e"/><text class="ss" transform="translate(560 125.1) scale(0.86 1)" font-size="5.9" font-weight="bold" fill="#1e1e1e" stroke="#1e1e1e" stroke-width="0.3">FVG</text><path d="M582.3 124 l2.4 -1.5 v3 z" fill="#1e1e1e"/><text class="ss" transform="translate(584.3 126.1) scale(0.86 1)" font-size="5.9" font-weight="bold" fill="#1e1e1e" stroke="#1e1e1e" stroke-width="0.3">CAM</text><path d="M549.9 130.5 l2.4 -1.5 v3 z" fill="#1e1e1e"/><text class="ss" transform="translate(551.9 132.6) scale(0.86 1)" font-size="5.9" font-weight="bold" fill="#1e1e1e" stroke="#1e1e1e" stroke-width="0.3">TRE</text><path d="M595.3 130.5 l2.4 -1.5 v3 z" fill="#1e1e1e"/><text class="ss" transform="translate(597.3 132.6) scale(0.86 1)" font-size="5.9" font-weight="bold" fill="#1e1e1e" stroke="#1e1e1e" stroke-width="0.3">TOS</text><path d="M607.8 114.5 l2.4 -1.5 v3 z" fill="#1e1e1e"/><text class="ss" transform="translate(609.8 116.6) scale(0.86 1)" font-size="5.9" font-weight="bold" fill="#1e1e1e" stroke="#1e1e1e" stroke-width="0.3">EMI</text><path d="M619.4 121.9 l2.4 -1.5 v3 z" fill="#1e1e1e"/><text class="ss" transform="translate(621.4 124) scale(0.86 1)" font-size="5.9" font-weight="bold" fill="#1e1e1e" stroke="#1e1e1e" stroke-width="0.3">VEN</text><path d="M574.3 144 l2.4 -1.5 v3 z" fill="#1e1e1e"/><text class="ss" transform="translate(576.3 146.1) scale(0.86 1)" font-size="5.9" font-weight="bold" fill="#1e1e1e" stroke="#1e1e1e" stroke-width="0.3">LIG</text><path d="M554.4 153 l2.4 -1.5 v3 z" fill="#1e1e1e"/><text class="ss" transform="translate(556.4 155.1) scale(0.86 1)" font-size="5.9" font-weight="bold" fill="#1e1e1e" stroke="#1e1e1e" stroke-width="0.3">ABR</text></g><text class="ss" font-size="9" fill="#3c3c3c" stroke="#3c3c3c" text-anchor="end"><tspan x="542.1" y="56.7">0.5</tspan><tspan x="542.1" y="124.55">0</tspan><tspan x="542.1" y="192.4">-0.5</tspan></text><text class="ss" font-size="9" fill="#3c3c3c" stroke="#3c3c3c" text-anchor="middle"><tspan x="546" y="201">0</tspan><tspan x="609.4" y="201">500</tspan><tspan x="672.8" y="201">1000</tspan></text><text class="sf" x="609.9" y="36.6" font-size="9.85" font-weight="bold" text-anchor="middle" fill="#262626" stroke="#262626" stroke-width="0.08">m = 0.00 (SE =0.02), <tspan font-style="italic" stroke-width="0.5">σ</tspan> = 1.14</text><text class="sf" x="609.9" y="49.8" font-size="10" text-anchor="middle" fill="#262626" stroke="#262626">Funnel plot</text><text class="sf" x="609.1" y="214.4" font-size="9.8" text-anchor="middle" fill="#262626" stroke="#262626">AST2019-20</text><text class="sf" transform="translate(522.1 121.35) rotate(-90)" x="0" y="0" font-size="9.9" text-anchor="middle" fill="#262626" stroke="#262626">Derivatives AMR2019-20</text><g clip-path="url(#c4)"><path d="M38.3 389 L38.4 388.44 L38.52 387.79 L38.64 387.15 L38.77 386.52 L38.9 385.89 L39.03 385.26 L39.16 384.63 L39.3 383.99 L39.44 383.34 L39.58 382.67 L39.73 382 L39.88 381.33 L40.03 380.67 L40.19 380.01 L40.35 379.36 L40.52 378.72 L40.68 378.08 L40.86 377.46 L41.03 376.86 L41.21 376.3 L41.39 375.77 L41.58 375.27 L41.77 374.78 L41.97 374.3 L42.17 373.82 L42.37 373.32 L42.58 372.81 L42.79 372.27 L43.01 371.7 L43.24 371.09 L43.46 370.45 L43.7 369.78 L43.94 369.11 L44.18 368.44 L44.43 367.78 L44.68 367.14 L44.95 366.53 L45.21 365.95 L45.48 365.43 L45.76 364.94 L46.05 364.46 L46.34 363.99 L46.64 363.54 L46.94 363.09 L47.25 362.65 L47.57 362.22 L47.89 361.79 L48.23 361.37 L48.57 360.96 L48.91 360.56 L49.27 360.18 L49.63 359.81 L50 359.45 L50.38 359.09 L50.77 358.74 L51.17 358.39 L51.57 358.04 L51.99 357.7 L52.41 357.38 L52.84 357.07 L53.28 356.76 L53.74 356.45 L54.2 356.14 L54.67 355.81 L55.16 355.48 L55.65 355.13 L56.16 354.76 L56.67 354.38 L57.2 354 L57.74 353.62 L58.29 353.24 L58.86 352.87 L59.43 352.5 L60.02 352.12 L60.62 351.76 L61.24 351.39 L61.87 351.03 L62.52 350.67 L63.17 350.3 L63.85 349.92 L64.53 349.55 L65.24 349.18 L65.96 348.82 L66.69 348.47 L67.44 348.14 L68.21 347.82 L69 347.5 L69.8 347.19 L70.62 346.89 L71.46 346.59 L72.32 346.29 L73.2 346 L74.09 345.71 L75.01 345.42 L75.95 345.14 L76.91 344.86 L77.88 344.58 L78.89 344.31 L79.91 344.05 L80.96 343.79 L82.03 343.58 L83.12 343.41 L84.24 343.26 L85.38 343.12 L86.55 342.98 L87.74 342.84 L88.96 342.67 L90.21 342.46 L91.49 342.24 L92.79 342.02 L94.13 341.79 L95.49 341.57 L96.89 341.36 L98.31 341.17 L99.77 341.03 L101.26 340.91 L102.78 340.8 L104.34 340.67 L105.93 340.51 L107.55 340.3 L109.22 340.06 L110.92 339.8 L112.66 339.53 L114.43 339.26 L116.25 338.99 L118.11 338.72 L120.01 338.46 L121.95 338.21 L123.93 337.97 L125.96 337.75 L128.03 337.54 L130.15 337.33 L132.32 337.13 L134.54 336.92 L136.8 336.72 L139.12 336.52 L141.48 336.32 L143.9 336.11 L146.38 335.91 L148.91 335.7 L151.49 335.5 L154.14 335.29 L156.84 335.1 L159.6 334.9" fill="none" stroke="#ec3440" stroke-width="1.35"/><path d="M38.4 253 L38.49 253.55 L38.61 254.27 L38.74 254.98 L38.86 255.69 L38.99 256.39 L39.13 257.09 L39.26 257.77 L39.4 258.45 L39.54 259.12 L39.69 259.78 L39.84 260.43 L39.99 261.07 L40.14 261.7 L40.3 262.31 L40.46 262.91 L40.63 263.5 L40.8 264.08 L40.97 264.65 L41.15 265.21 L41.33 265.76 L41.51 266.3 L41.7 266.83 L41.9 267.36 L42.09 267.88 L42.3 268.39 L42.5 268.88 L42.71 269.35 L42.93 269.81 L43.15 270.26 L43.37 270.7 L43.6 271.13 L43.84 271.56 L44.08 271.99 L44.32 272.43 L44.58 272.87 L44.83 273.31 L45.1 273.76 L45.36 274.22 L45.64 274.68 L45.92 275.13 L46.21 275.59 L46.5 276.04 L46.8 276.48 L47.1 276.92 L47.42 277.36 L47.74 277.79 L48.06 278.21 L48.4 278.62 L48.74 279.04 L49.09 279.44 L49.45 279.84 L49.81 280.24 L50.18 280.63 L50.57 281.02 L50.95 281.4 L51.35 281.78 L51.76 282.16 L52.18 282.53 L52.6 282.89 L53.04 283.25 L53.48 283.61 L53.94 283.96 L54.4 284.3 L54.88 284.64 L55.36 284.98 L55.86 285.3 L56.36 285.63 L56.88 285.95 L57.41 286.27 L57.95 286.58 L58.51 286.9 L59.07 287.2 L59.65 287.51 L60.24 287.82 L60.85 288.12 L61.47 288.43 L62.1 288.73 L62.74 289.03 L63.4 289.32 L64.08 289.62 L64.77 289.91 L65.47 290.19 L66.19 290.48 L66.93 290.77 L67.68 291.05 L68.45 291.33 L69.24 291.61 L70.04 291.88 L70.86 292.15 L71.7 292.43 L72.56 292.7 L73.44 292.96 L74.34 293.23 L75.26 293.49 L76.19 293.74 L77.15 293.99 L78.13 294.23 L79.13 294.48 L80.16 294.72 L81.2 294.98 L82.27 295.24 L83.37 295.52 L84.48 295.79 L85.63 296.07 L86.79 296.35 L87.99 296.62 L89.21 296.89 L90.45 297.17 L91.73 297.45 L93.03 297.75 L94.36 298.04 L95.73 298.31 L97.12 298.57 L98.54 298.79 L99.99 298.95 L101.48 299.09 L103 299.22 L104.55 299.36 L106.14 299.52 L107.76 299.72 L109.42 299.92 L111.12 300.12 L112.85 300.32 L114.62 300.52 L116.43 300.72 L118.29 300.92 L120.18 301.13 L122.11 301.33 L124.09 301.54 L126.11 301.78 L128.18 302.04 L130.29 302.33 L132.45 302.62 L134.65 302.92 L136.91 303.2 L139.22 303.47 L141.57 303.71 L143.98 303.93 L146.44 304.16 L148.96 304.37 L151.53 304.58 L154.16 304.79 L156.85 305 L159.6 305.2" fill="none" stroke="#ec3440" stroke-width="1.35"/><line x1="33" y1="320.4" x2="159.6" y2="320.4" stroke="#ec9278" stroke-width="1.4" stroke-dasharray="5.5 2"/><path d="M36 298.3 l2.4 -1.5 v3 z" fill="#1e1e1e"/><text class="ss" transform="translate(38 300.4) scale(0.86 1)" font-size="5.9" font-weight="bold" fill="#1e1e1e" stroke="#1e1e1e" stroke-width="0.3">TRE</text><path d="M52.2 305.1 l2.4 -1.5 v3 z" fill="#1e1e1e"/><text class="ss" transform="translate(54.2 307.2) scale(0.86 1)" font-size="5.9" font-weight="bold" fill="#1e1e1e" stroke="#1e1e1e" stroke-width="0.3">PIE</text><path d="M68.9 303.5 l2.4 -1.5 v3 z" fill="#1e1e1e"/><text class="ss" transform="translate(70.9 305.6) scale(0.86 1)" font-size="5.9" font-weight="bold" fill="#1e1e1e" stroke="#1e1e1e" stroke-width="0.3">LIG</text><path d="M33.2 311.4 l2.4 -1.5 v3 z" fill="#1e1e1e"/><text class="ss" transform="translate(35.2 313.5) scale(0.86 1)" font-size="5.9" font-weight="bold" fill="#1e1e1e" stroke="#1e1e1e" stroke-width="0.3">VAL</text><path d="M46.2 311.4 l2.4 -1.5 v3 z" fill="#1e1e1e"/><text class="ss" transform="translate(48.2 313.5) scale(0.86 1)" font-size="5.9" font-weight="bold" fill="#1e1e1e" stroke="#1e1e1e" stroke-width="0.3">FVG</text><path d="M56 313.6 l2.4 -1.5 v3 z" fill="#1e1e1e"/><text class="ss" transform="translate(58 315.7) scale(0.86 1)" font-size="5.9" font-weight="bold" fill="#1e1e1e" stroke="#1e1e1e" stroke-width="0.3">UMB</text><path d="M34.9 314.5 l2.4 -1.5 v3 z" fill="#1e1e1e"/><text class="ss" transform="translate(36.9 316.6) scale(0.86 1)" font-size="5.9" font-weight="bold" fill="#1e1e1e" stroke="#1e1e1e" stroke-width="0.3">ABR</text><path d="M36 316 l2.4 -1.5 v3 z" fill="#1e1e1e"/><text class="ss" transform="translate(38 318.1) scale(0.86 1)" font-size="5.9" font-weight="bold" fill="#1e1e1e" stroke="#1e1e1e" stroke-width="0.3">SAR</text><path d="M54.9 317 l2.4 -1.5 v3 z" fill="#1e1e1e"/><text class="ss" transform="translate(56.9 319.1) scale(0.86 1)" font-size="5.9" font-weight="bold" fill="#1e1e1e" stroke="#1e1e1e" stroke-width="0.3">PUG</text><path d="M69.5 315 l2.4 -1.5 v3 z" fill="#1e1e1e"/><text class="ss" transform="translate(71.5 317.1) scale(0.86 1)" font-size="5.9" font-weight="bold" fill="#1e1e1e" stroke="#1e1e1e" stroke-width="0.3">SIC</text><path d="M78 315 l2.4 -1.5 v3 z" fill="#1e1e1e"/><text class="ss" transform="translate(80 317.1) scale(0.86 1)" font-size="5.9" font-weight="bold" fill="#1e1e1e" stroke="#1e1e1e" stroke-width="0.3">CAM</text><path d="M88 316.5 l2.4 -1.5 v3 z" fill="#1e1e1e"/><text class="ss" transform="translate(90 318.6) scale(0.86 1)" font-size="5.9" font-weight="bold" fill="#1e1e1e" stroke="#1e1e1e" stroke-width="0.3">LAZ</text><path d="M90 311 l2.4 -1.5 v3 z" fill="#1e1e1e"/><text class="ss" transform="translate(92 313.1) scale(0.86 1)" font-size="5.9" font-weight="bold" fill="#1e1e1e" stroke="#1e1e1e" stroke-width="0.3">TOS</text><path d="M122 311 l2.4 -1.5 v3 z" fill="#1e1e1e"/><text class="ss" transform="translate(124 313.1) scale(0.86 1)" font-size="5.9" font-weight="bold" fill="#1e1e1e" stroke="#1e1e1e" stroke-width="0.3">VEN</text><path d="M100 319.5 l2.4 -1.5 v3 z" fill="#1e1e1e"/><text class="ss" transform="translate(102 321.6) scale(0.86 1)" font-size="5.9" font-weight="bold" fill="#1e1e1e" stroke="#1e1e1e" stroke-width="0.3">EMI</text><path d="M103 320 l2.4 -1.5 v3 z" fill="#1e1e1e"/><text class="ss" transform="translate(105 322.1) scale(0.86 1)" font-size="5.9" font-weight="bold" fill="#1e1e1e" stroke="#1e1e1e" stroke-width="0.3">LOM</text><path d="M43.5 325 l2.4 -1.5 v3 z" fill="#1e1e1e"/><text class="ss" transform="translate(45.5 327.1) scale(0.86 1)" font-size="5.9" font-weight="bold" fill="#1e1e1e" stroke="#1e1e1e" stroke-width="0.3">MAR</text><path d="M35.4 330 l2.4 -1.5 v3 z" fill="#1e1e1e"/><text class="ss" transform="translate(37.4 332.1) scale(0.86 1)" font-size="5.9" font-weight="bold" fill="#1e1e1e" stroke="#1e1e1e" stroke-width="0.3">BAS</text><path d="M34 352 l2.4 -1.5 v3 z" fill="#1e1e1e"/><text class="ss" transform="translate(36 354.1) scale(0.86 1)" font-size="5.9" font-weight="bold" fill="#1e1e1e" stroke="#1e1e1e" stroke-width="0.3">CAL</text><path d="M34 375 l2.4 -1.5 v3 z" fill="#1e1e1e"/><text class="ss" transform="translate(36 377.1) scale(0.86 1)" font-size="5.9" font-weight="bold" fill="#1e1e1e" stroke="#1e1e1e" stroke-width="0.3">MOL</text><path d="M38 314 l2.4 -1.5 v3 z" fill="#1e1e1e"/><text class="ss" transform="translate(40 316.1) scale(0.86 1)" font-size="5.9" font-weight="bold" fill="#1e1e1e" stroke="#1e1e1e" stroke-width="0.3">BOL</text></g><text class="ss" font-size="9" fill="#3c3c3c" stroke="#3c3c3c" text-anchor="end"><tspan x="28.5" y="256.2">0.5</tspan><tspan x="28.5" y="324.2">0</tspan><tspan x="28.5" y="392.2">-0.5</tspan></text><text class="ss" font-size="9" fill="#3c3c3c" stroke="#3c3c3c" text-anchor="middle"><tspan x="32.4" y="400.8">0</tspan><tspan x="95.8" y="400.8">500</tspan><tspan x="159.2" y="400.8">1000</tspan></text><text class="sf" x="96.3" y="236.1" font-size="9.85" font-weight="bold" text-anchor="middle" fill="#262626" stroke="#262626" stroke-width="0.08">m = 0.04 (SE =0.02), <tspan font-style="italic" stroke-width="0.5">σ</tspan> = 0.75</text><text class="sf" x="96.3" y="249.3" font-size="10" text-anchor="middle" fill="#262626" stroke="#262626">Funnel plot</text><text class="sf" x="95.5" y="414.2" font-size="9.8" text-anchor="middle" fill="#262626" stroke="#262626">AST2020-21</text><text class="sf" transform="translate(8.5 321) rotate(-90)" x="0" y="0" font-size="9.9" text-anchor="middle" fill="#262626" stroke="#262626">Derivatives AMR2020-21</text><g clip-path="url(#c5)"><path d="M206.2 389 L206.22 388.6 L206.28 387.38 L206.34 386.19 L206.4 385.06 L206.46 383.99 L206.52 382.94 L206.59 381.92 L206.66 380.92 L206.73 379.94 L206.8 378.99 L206.88 378.05 L206.95 377.12 L207.03 376.21 L207.11 375.31 L207.19 374.42 L207.28 373.54 L207.37 372.67 L207.46 371.8 L207.55 370.94 L207.65 370.08 L207.74 369.22 L207.85 368.34 L207.95 367.47 L208.06 366.59 L208.17 365.72 L208.28 364.86 L208.4 364.02 L208.52 363.18 L208.64 362.37 L208.77 361.57 L208.9 360.8 L209.03 360.05 L209.17 359.33 L209.31 358.64 L209.46 357.98 L209.61 357.32 L209.76 356.67 L209.92 356.03 L210.08 355.41 L210.25 354.8 L210.43 354.2 L210.6 353.61 L210.79 353.04 L210.97 352.47 L211.17 351.92 L211.37 351.38 L211.57 350.86 L211.78 350.34 L212 349.84 L212.22 349.35 L212.45 348.86 L212.68 348.38 L212.93 347.91 L213.18 347.44 L213.43 346.98 L213.7 346.53 L213.97 346.09 L214.25 345.65 L214.53 345.21 L214.83 344.78 L215.13 344.36 L215.44 343.92 L215.77 343.48 L216.1 343.03 L216.43 342.57 L216.78 342.11 L217.14 341.66 L217.51 341.21 L217.89 340.76 L218.28 340.33 L218.69 339.92 L219.1 339.52 L219.53 339.14 L219.96 338.78 L220.41 338.44 L220.88 338.12 L221.35 337.82 L221.84 337.52 L222.35 337.24 L222.86 336.96 L223.4 336.69 L223.95 336.43 L224.51 336.18 L225.09 335.92 L225.69 335.68 L226.3 335.43 L226.93 335.19 L227.58 334.95 L228.25 334.72 L228.93 334.49 L229.64 334.28 L230.37 334.06 L231.11 333.85 L231.88 333.65 L232.67 333.45 L233.48 333.25 L234.32 333.06 L235.18 332.88 L236.07 332.7 L236.97 332.54 L237.91 332.38 L238.87 332.22 L239.86 332.07 L240.88 331.91 L241.93 331.76 L243.01 331.6 L244.11 331.44 L245.25 331.28 L246.43 331.11 L247.63 330.93 L248.87 330.75 L250.15 330.55 L251.46 330.35 L252.81 330.15 L254.2 329.95 L255.62 329.75 L257.09 329.55 L258.6 329.36 L260.16 329.16 L261.75 328.97 L263.4 328.78 L265.09 328.6 L266.83 328.41 L268.62 328.23 L270.45 328.06 L272.35 327.89 L274.29 327.72 L276.29 327.56 L278.35 327.4 L280.47 327.24 L282.65 327.09 L284.89 326.94 L287.19 326.78 L289.56 326.63 L292 326.48 L294.5 326.33 L297.08 326.17 L299.74 326.02 L302.46 325.85 L305.27 325.67 L308.15 325.48 L311.12 325.28 L314.18 325.08 L317.32 324.87 L320.55 324.67 L323.87 324.47 L327.29 324.28 L330.8 324.1" fill="none" stroke="#ec3440" stroke-width="1.35"/><path d="M207.1 253 L207.11 253.18 L207.19 254.11 L207.27 255.04 L207.35 255.95 L207.43 256.83 L207.52 257.66 L207.6 258.42 L207.69 259.12 L207.78 259.77 L207.88 260.36 L207.97 260.92 L208.07 261.45 L208.17 261.96 L208.28 262.45 L208.38 262.93 L208.49 263.4 L208.61 263.87 L208.72 264.35 L208.84 264.84 L208.96 265.35 L209.09 265.87 L209.21 266.42 L209.34 267 L209.48 267.58 L209.62 268.15 L209.76 268.73 L209.9 269.29 L210.05 269.86 L210.21 270.42 L210.36 270.97 L210.53 271.52 L210.69 272.06 L210.86 272.59 L211.04 273.12 L211.21 273.64 L211.4 274.15 L211.59 274.65 L211.78 275.15 L211.98 275.64 L212.18 276.12 L212.39 276.6 L212.6 277.07 L212.82 277.53 L213.05 277.99 L213.28 278.44 L213.52 278.89 L213.76 279.33 L214.01 279.76 L214.27 280.19 L214.53 280.62 L214.8 281.03 L215.08 281.45 L215.37 281.86 L215.66 282.26 L215.96 282.66 L216.27 283.05 L216.58 283.44 L216.91 283.82 L217.24 284.2 L217.58 284.58 L217.93 284.95 L218.29 285.32 L218.66 285.68 L219.04 286.04 L219.42 286.39 L219.82 286.74 L220.23 287.09 L220.65 287.43 L221.08 287.76 L221.52 288.09 L221.98 288.42 L222.44 288.74 L222.92 289.05 L223.41 289.37 L223.91 289.67 L224.43 289.97 L224.96 290.27 L225.5 290.56 L226.06 290.83 L226.63 291.09 L227.22 291.35 L227.82 291.59 L228.44 291.83 L229.07 292.06 L229.72 292.3 L230.39 292.54 L231.07 292.78 L231.78 293.02 L232.5 293.27 L233.24 293.54 L234 293.81 L234.78 294.08 L235.58 294.36 L236.4 294.64 L237.24 294.92 L238.11 295.19 L238.99 295.46 L239.91 295.72 L240.84 295.98 L241.8 296.23 L242.78 296.46 L243.79 296.69 L244.83 296.92 L245.89 297.14 L246.98 297.35 L248.1 297.57 L249.25 297.78 L250.43 297.99 L251.64 298.2 L252.88 298.4 L254.15 298.61 L255.46 298.81 L256.8 299.01 L258.18 299.2 L259.59 299.39 L261.04 299.55 L262.53 299.69 L264.06 299.82 L265.62 299.95 L267.23 300.09 L268.88 300.24 L270.57 300.39 L272.31 300.54 L274.09 300.69 L275.92 300.83 L277.79 300.98 L279.72 301.12 L281.7 301.27 L283.72 301.41 L285.81 301.56 L287.94 301.7 L290.13 301.85 L292.38 302 L294.69 302.16 L297.06 302.31 L299.49 302.47 L301.98 302.63 L304.54 302.82 L307.16 303.03 L309.86 303.25 L312.62 303.47 L315.46 303.7 L318.37 303.94 L321.36 304.17 L324.43 304.39 L327.57 304.6 L330.8 304.8" fill="none" stroke="#ec3440" stroke-width="1.35"/><line x1="204.2" y1="314.8" x2="330.8" y2="314.8" stroke="#ec9278" stroke-width="1.4" stroke-dasharray="5.5 2"/><path d="M228.4 299 l2.4 -1.5 v3 z" fill="#1e1e1e"/><text class="ss" transform="translate(230.4 301.1) scale(0.86 1)" font-size="5.9" font-weight="bold" fill="#1e1e1e" stroke="#1e1e1e" stroke-width="0.3">UMB</text><path d="M231.7 302.5 l2.4 -1.5 v3 z" fill="#1e1e1e"/><text class="ss" transform="translate(233.7 304.6) scale(0.86 1)" font-size="5.9" font-weight="bold" fill="#1e1e1e" stroke="#1e1e1e" stroke-width="0.3">PUG</text><path d="M208.6 304.5 l2.4 -1.5 v3 z" fill="#1e1e1e"/><text class="ss" transform="translate(210.6 306.6) scale(0.86 1)" font-size="5.9" font-weight="bold" fill="#1e1e1e" stroke="#1e1e1e" stroke-width="0.3">BOL</text><path d="M204.5 308.5 l2.4 -1.5 v3 z" fill="#1e1e1e"/><text class="ss" transform="translate(206.5 310.6) scale(0.86 1)" font-size="5.9" font-weight="bold" fill="#1e1e1e" stroke="#1e1e1e" stroke-width="0.3">MOL</text><path d="M205.3 314 l2.4 -1.5 v3 z" fill="#1e1e1e"/><text class="ss" transform="translate(207.3 316.1) scale(0.86 1)" font-size="5.9" font-weight="bold" fill="#1e1e1e" stroke="#1e1e1e" stroke-width="0.3">ABR</text><path d="M230.4 318 l2.4 -1.5 v3 z" fill="#1e1e1e"/><text class="ss" transform="translate(232.4 320.1) scale(0.86 1)" font-size="5.9" font-weight="bold" fill="#1e1e1e" stroke="#1e1e1e" stroke-width="0.3">PIE</text><path d="M204.5 317.5 l2.4 -1.5 v3 z" fill="#1e1e1e"/><text class="ss" transform="translate(206.5 319.6) scale(0.86 1)" font-size="5.9" font-weight="bold" fill="#1e1e1e" stroke="#1e1e1e" stroke-width="0.3">VAL</text><path d="M206 320.5 l2.4 -1.5 v3 z" fill="#1e1e1e"/><text class="ss" transform="translate(208 322.6) scale(0.86 1)" font-size="5.9" font-weight="bold" fill="#1e1e1e" stroke="#1e1e1e" stroke-width="0.3">SAR</text><path d="M207 323.5 l2.4 -1.5 v3 z" fill="#1e1e1e"/><text class="ss" transform="translate(209 325.6) scale(0.86 1)" font-size="5.9" font-weight="bold" fill="#1e1e1e" stroke="#1e1e1e" stroke-width="0.3">FVG</text><path d="M211 326.5 l2.4 -1.5 v3 z" fill="#1e1e1e"/><text class="ss" transform="translate(213 328.6) scale(0.86 1)" font-size="5.9" font-weight="bold" fill="#1e1e1e" stroke="#1e1e1e" stroke-width="0.3">MAR</text><path d="M214 328.5 l2.4 -1.5 v3 z" fill="#1e1e1e"/><text class="ss" transform="translate(216 330.6) scale(0.86 1)" font-size="5.9" font-weight="bold" fill="#1e1e1e" stroke="#1e1e1e" stroke-width="0.3">BAS</text><path d="M208.5 331 l2.4 -1.5 v3 z" fill="#1e1e1e"/><text class="ss" transform="translate(210.5 333.1) scale(0.86 1)" font-size="5.9" font-weight="bold" fill="#1e1e1e" stroke="#1e1e1e" stroke-width="0.3">CAL</text><path d="M241 337 l2.4 -1.5 v3 z" fill="#1e1e1e"/><text class="ss" transform="translate(243 339.1) scale(0.86 1)" font-size="5.9" font-weight="bold" fill="#1e1e1e" stroke="#1e1e1e" stroke-width="0.3">LIG</text><path d="M208 341 l2.4 -1.5 v3 z" fill="#1e1e1e"/><text class="ss" transform="translate(210 343.1) scale(0.86 1)" font-size="5.9" font-weight="bold" fill="#1e1e1e" stroke="#1e1e1e" stroke-width="0.3">TRE</text><path d="M256.3 309 l2.4 -1.5 v3 z" fill="#1e1e1e"/><text class="ss" transform="translate(258.3 311.1) scale(0.86 1)" font-size="5.9" font-weight="bold" fill="#1e1e1e" stroke="#1e1e1e" stroke-width="0.3">SIC</text><path d="M260 301 l2.4 -1.5 v3 z" fill="#1e1e1e"/><text class="ss" transform="translate(262 303.1) scale(0.86 1)" font-size="5.9" font-weight="bold" fill="#1e1e1e" stroke="#1e1e1e" stroke-width="0.3">LAZ</text><path d="M263 300 l2.4 -1.5 v3 z" fill="#1e1e1e"/><text class="ss" transform="translate(265 302.1) scale(0.86 1)" font-size="5.9" font-weight="bold" fill="#1e1e1e" stroke="#1e1e1e" stroke-width="0.3">CAM</text><path d="M275 305 l2.4 -1.5 v3 z" fill="#1e1e1e"/><text class="ss" transform="translate(277 307.1) scale(0.86 1)" font-size="5.9" font-weight="bold" fill="#1e1e1e" stroke="#1e1e1e" stroke-width="0.3">TOS</text><path d="M283.4 323 l2.4 -1.5 v3 z" fill="#1e1e1e"/><text class="ss" transform="translate(285.4 325.1) scale(0.86 1)" font-size="5.9" font-weight="bold" fill="#1e1e1e" stroke="#1e1e1e" stroke-width="0.3">EMI</text><path d="M299.7 321 l2.4 -1.5 v3 z" fill="#1e1e1e"/><text class="ss" transform="translate(301.7 323.1) scale(0.86 1)" font-size="5.9" font-weight="bold" fill="#1e1e1e" stroke="#1e1e1e" stroke-width="0.3">LOM</text><path d="M294.2 326 l2.4 -1.5 v3 z" fill="#1e1e1e"/><text class="ss" transform="translate(296.2 328.1) scale(0.86 1)" font-size="5.9" font-weight="bold" fill="#1e1e1e" stroke="#1e1e1e" stroke-width="0.3">VEN</text></g><text class="ss" font-size="9" fill="#3c3c3c" stroke="#3c3c3c" text-anchor="end"><tspan x="199.7" y="256.2">0.5</tspan><tspan x="199.7" y="324.2">0</tspan><tspan x="199.7" y="392.2">-0.5</tspan></text><text class="ss" font-size="9" fill="#3c3c3c" stroke="#3c3c3c" text-anchor="middle"><tspan x="203.6" y="400.8">0</tspan><tspan x="267" y="400.8">500</tspan><tspan x="330.4" y="400.8">1000</tspan></text><text class="sf" x="267.5" y="236.1" font-size="9.85" font-weight="bold" text-anchor="middle" fill="#262626" stroke="#262626" stroke-width="0.08">m = 0.04 (SE =0.01), <tspan font-style="italic" stroke-width="0.5">σ</tspan> = 1.34</text><text class="sf" x="267.5" y="249.3" font-size="10" text-anchor="middle" fill="#262626" stroke="#262626">Funnel plot</text><text class="sf" x="266.7" y="414.2" font-size="9.8" text-anchor="middle" fill="#262626" stroke="#262626">AST2021-22</text><text class="sf" transform="translate(179.7 321) rotate(-90)" x="0" y="0" font-size="9.9" text-anchor="middle" fill="#262626" stroke="#262626">Derivatives AMR2021-22</text><g clip-path="url(#c6)"><path d="M382.88 389 L382.95 388.55 L383.1 387.28 L383.25 385.98 L383.4 384.69 L383.56 383.48 L383.72 382.38 L383.88 381.46 L384.04 380.73 L384.21 380.09 L384.38 379.45 L384.56 378.83 L384.74 378.22 L384.92 377.62 L385.11 377.02 L385.3 376.42 L385.49 375.83 L385.69 375.23 L385.89 374.63 L386.1 374.04 L386.31 373.44 L386.52 372.85 L386.74 372.27 L386.97 371.69 L387.19 371.12 L387.43 370.55 L387.66 369.99 L387.91 369.44 L388.15 368.9 L388.41 368.37 L388.66 367.87 L388.93 367.39 L389.2 366.93 L389.47 366.49 L389.75 366.06 L390.03 365.63 L390.33 365.21 L390.62 364.8 L390.93 364.38 L391.23 363.95 L391.55 363.53 L391.87 363.11 L392.2 362.7 L392.54 362.29 L392.88 361.89 L393.23 361.49 L393.58 361.09 L393.95 360.69 L394.32 360.3 L394.7 359.91 L395.08 359.51 L395.48 359.12 L395.88 358.73 L396.29 358.35 L396.71 357.96 L397.13 357.58 L397.57 357.2 L398.02 356.83 L398.47 356.46 L398.93 356.1 L399.41 355.74 L399.89 355.39 L400.38 355.05 L400.88 354.72 L401.4 354.4 L401.92 354.08 L402.45 353.76 L403 353.45 L403.55 353.13 L404.12 352.81 L404.7 352.49 L405.29 352.17 L405.89 351.84 L406.51 351.51 L407.14 351.18 L407.78 350.85 L408.43 350.53 L409.1 350.2 L409.78 349.88 L410.47 349.55 L411.18 349.23 L411.91 348.91 L412.64 348.59 L413.4 348.27 L414.17 347.96 L414.95 347.65 L415.75 347.33 L416.57 347.02 L417.4 346.71 L418.25 346.4 L419.12 346.08 L420 345.76 L420.91 345.45 L421.83 345.13 L422.77 344.81 L423.73 344.5 L424.71 344.19 L425.71 343.89 L426.73 343.59 L427.77 343.29 L428.83 343 L429.92 342.72 L431.02 342.43 L432.15 342.16 L433.3 341.88 L434.48 341.61 L435.68 341.34 L436.9 341.08 L438.15 340.81 L439.43 340.55 L440.73 340.3 L442.05 340.05 L443.41 339.8 L444.79 339.55 L446.2 339.3 L447.64 339.06 L449.11 338.81 L450.61 338.55 L452.14 338.26 L453.7 337.95 L455.29 337.64 L456.91 337.33 L458.57 337.05 L460.26 336.8 L461.99 336.58 L463.75 336.39 L465.55 336.21 L467.39 336.03 L469.26 335.86 L471.17 335.68 L473.12 335.5 L475.11 335.3 L477.14 335.1 L479.21 334.91 L481.32 334.72 L483.48 334.52 L485.68 334.34 L487.93 334.15 L490.22 334.01 L492.56 333.92 L494.94 333.86 L497.38 333.81 L499.86 333.76 L502.4 333.69" fill="none" stroke="#ec3440" stroke-width="1.35"/><path d="M384.9 253 L385.06 253.45 L385.23 253.93 L385.41 254.41 L385.59 254.87 L385.77 255.34 L385.96 255.81 L386.15 256.29 L386.35 256.79 L386.55 257.3 L386.75 257.84 L386.96 258.38 L387.17 258.92 L387.38 259.45 L387.6 259.99 L387.82 260.52 L388.05 261.05 L388.28 261.58 L388.52 262.1 L388.76 262.62 L389 263.15 L389.25 263.68 L389.5 264.22 L389.76 264.75 L390.03 265.26 L390.29 265.77 L390.57 266.24 L390.85 266.68 L391.13 267.04 L391.42 267.35 L391.71 267.62 L392.01 267.87 L392.32 268.12 L392.63 268.37 L392.95 268.65 L393.27 268.96 L393.6 269.31 L393.94 269.68 L394.28 270.05 L394.63 270.42 L394.98 270.8 L395.34 271.17 L395.71 271.55 L396.09 271.93 L396.47 272.3 L396.86 272.68 L397.26 273.06 L397.66 273.44 L398.07 273.82 L398.49 274.2 L398.92 274.57 L399.36 274.95 L399.8 275.31 L400.26 275.68 L400.72 276.04 L401.19 276.39 L401.67 276.73 L402.15 277.06 L402.65 277.38 L403.16 277.69 L403.67 278 L404.2 278.3 L404.73 278.6 L405.28 278.9 L405.84 279.21 L406.4 279.52 L406.98 279.82 L407.57 280.13 L408.17 280.43 L408.78 280.73 L409.4 281.04 L410.03 281.34 L410.68 281.64 L411.34 281.95 L412.01 282.25 L412.69 282.55 L413.38 282.84 L414.09 283.14 L414.81 283.43 L415.55 283.73 L416.3 284.02 L417.06 284.33 L417.84 284.69 L418.64 285.08 L419.44 285.48 L420.27 285.86 L421.1 286.21 L421.96 286.53 L422.83 286.83 L423.72 287.12 L424.62 287.41 L425.54 287.69 L426.48 287.96 L427.44 288.22 L428.41 288.48 L429.4 288.73 L430.41 288.98 L431.44 289.23 L432.49 289.48 L433.56 289.72 L434.65 289.96 L435.76 290.2 L436.89 290.44 L438.04 290.67 L439.22 290.9 L440.41 291.13 L441.63 291.35 L442.87 291.57 L444.14 291.78 L445.43 292 L446.74 292.21 L448.08 292.42 L449.44 292.64 L450.83 292.88 L452.24 293.15 L453.69 293.44 L455.16 293.73 L456.65 294.01 L458.18 294.28 L459.73 294.53 L461.31 294.74 L462.93 294.92 L464.57 295.1 L466.24 295.26 L467.95 295.42 L469.69 295.58 L471.46 295.74 L473.26 295.92 L475.1 296.1 L476.97 296.28 L478.88 296.46 L480.82 296.64 L482.81 296.82 L484.82 296.99 L486.88 297.17 L488.97 297.32 L491.11 297.43 L493.28 297.5 L495.5 297.55 L497.76 297.59 L500.06 297.64 L502.4 297.71" fill="none" stroke="#ec3440" stroke-width="1.35"/><line x1="375.8" y1="315.7" x2="502.4" y2="315.7" stroke="#ec9278" stroke-width="1.4" stroke-dasharray="5.5 2"/><path d="M390.2 296.8 l2.4 -1.5 v3 z" fill="#1e1e1e"/><text class="ss" transform="translate(392.2 298.9) scale(0.86 1)" font-size="5.9" font-weight="bold" fill="#1e1e1e" stroke="#1e1e1e" stroke-width="0.3">ABR</text><path d="M376.2 300.8 l2.4 -1.5 v3 z" fill="#1e1e1e"/><text class="ss" transform="translate(378.2 302.9) scale(0.86 1)" font-size="5.9" font-weight="bold" fill="#1e1e1e" stroke="#1e1e1e" stroke-width="0.3">MOL</text><path d="M377 303 l2.4 -1.5 v3 z" fill="#1e1e1e"/><text class="ss" transform="translate(379 305.1) scale(0.86 1)" font-size="5.9" font-weight="bold" fill="#1e1e1e" stroke="#1e1e1e" stroke-width="0.3">VAL</text><path d="M390 309.3 l2.4 -1.5 v3 z" fill="#1e1e1e"/><text class="ss" transform="translate(392 311.4) scale(0.86 1)" font-size="5.9" font-weight="bold" fill="#1e1e1e" stroke="#1e1e1e" stroke-width="0.3">MAR</text><path d="M381 310.5 l2.4 -1.5 v3 z" fill="#1e1e1e"/><text class="ss" transform="translate(383 312.6) scale(0.86 1)" font-size="5.9" font-weight="bold" fill="#1e1e1e" stroke="#1e1e1e" stroke-width="0.3">SAR</text><path d="M384.5 311.3 l2.4 -1.5 v3 z" fill="#1e1e1e"/><text class="ss" transform="translate(386.5 313.4) scale(0.86 1)" font-size="5.9" font-weight="bold" fill="#1e1e1e" stroke="#1e1e1e" stroke-width="0.3">PIE</text><path d="M378.3 319 l2.4 -1.5 v3 z" fill="#1e1e1e"/><text class="ss" transform="translate(380.3 321.1) scale(0.86 1)" font-size="5.9" font-weight="bold" fill="#1e1e1e" stroke="#1e1e1e" stroke-width="0.3">TRE</text><path d="M381 320.5 l2.4 -1.5 v3 z" fill="#1e1e1e"/><text class="ss" transform="translate(383 322.6) scale(0.86 1)" font-size="5.9" font-weight="bold" fill="#1e1e1e" stroke="#1e1e1e" stroke-width="0.3">BAS</text><path d="M386 319.5 l2.4 -1.5 v3 z" fill="#1e1e1e"/><text class="ss" transform="translate(388 321.6) scale(0.86 1)" font-size="5.9" font-weight="bold" fill="#1e1e1e" stroke="#1e1e1e" stroke-width="0.3">FVG</text><path d="M403.7 319 l2.4 -1.5 v3 z" fill="#1e1e1e"/><text class="ss" transform="translate(405.7 321.1) scale(0.86 1)" font-size="5.9" font-weight="bold" fill="#1e1e1e" stroke="#1e1e1e" stroke-width="0.3">SIC</text><path d="M410 319 l2.4 -1.5 v3 z" fill="#1e1e1e"/><text class="ss" transform="translate(412 321.1) scale(0.86 1)" font-size="5.9" font-weight="bold" fill="#1e1e1e" stroke="#1e1e1e" stroke-width="0.3">PUG</text><path d="M413.5 319 l2.4 -1.5 v3 z" fill="#1e1e1e"/><text class="ss" transform="translate(415.5 321.1) scale(0.86 1)" font-size="5.9" font-weight="bold" fill="#1e1e1e" stroke="#1e1e1e" stroke-width="0.3">LIG</text><path d="M400 323.8 l2.4 -1.5 v3 z" fill="#1e1e1e"/><text class="ss" transform="translate(402 325.9) scale(0.86 1)" font-size="5.9" font-weight="bold" fill="#1e1e1e" stroke="#1e1e1e" stroke-width="0.3">UMB</text><path d="M379.4 331.4 l2.4 -1.5 v3 z" fill="#1e1e1e"/><text class="ss" transform="translate(381.4 333.5) scale(0.86 1)" font-size="5.9" font-weight="bold" fill="#1e1e1e" stroke="#1e1e1e" stroke-width="0.3">BOL</text><path d="M431.3 322 l2.4 -1.5 v3 z" fill="#1e1e1e"/><text class="ss" transform="translate(433.3 324.1) scale(0.86 1)" font-size="5.9" font-weight="bold" fill="#1e1e1e" stroke="#1e1e1e" stroke-width="0.3">CAM</text><path d="M428 319 l2.4 -1.5 v3 z" fill="#1e1e1e"/><text class="ss" transform="translate(430 321.1) scale(0.86 1)" font-size="5.9" font-weight="bold" fill="#1e1e1e" stroke="#1e1e1e" stroke-width="0.3">EMI</text><path d="M445.8 320 l2.4 -1.5 v3 z" fill="#1e1e1e"/><text class="ss" transform="translate(447.8 322.1) scale(0.86 1)" font-size="5.9" font-weight="bold" fill="#1e1e1e" stroke="#1e1e1e" stroke-width="0.3">TOS</text><path d="M456 320 l2.4 -1.5 v3 z" fill="#1e1e1e"/><text class="ss" transform="translate(458 322.1) scale(0.86 1)" font-size="5.9" font-weight="bold" fill="#1e1e1e" stroke="#1e1e1e" stroke-width="0.3">VEN</text><path d="M460 307 l2.4 -1.5 v3 z" fill="#1e1e1e"/><text class="ss" transform="translate(462 309.1) scale(0.86 1)" font-size="5.9" font-weight="bold" fill="#1e1e1e" stroke="#1e1e1e" stroke-width="0.3">EMI</text><path d="M489 320 l2.4 -1.5 v3 z" fill="#1e1e1e"/><text class="ss" transform="translate(491 322.1) scale(0.86 1)" font-size="5.9" font-weight="bold" fill="#1e1e1e" stroke="#1e1e1e" stroke-width="0.3">LOM</text><path d="M442 330 l2.4 -1.5 v3 z" fill="#1e1e1e"/><text class="ss" transform="translate(444 332.1) scale(0.86 1)" font-size="5.9" font-weight="bold" fill="#1e1e1e" stroke="#1e1e1e" stroke-width="0.3">LAZ</text></g><text class="ss" font-size="9" fill="#3c3c3c" stroke="#3c3c3c" text-anchor="end"><tspan x="371.3" y="256.2">0.5</tspan><tspan x="371.3" y="324.2">0</tspan><tspan x="371.3" y="392.2">-0.5</tspan></text><text class="ss" font-size="9" fill="#3c3c3c" stroke="#3c3c3c" text-anchor="middle"><tspan x="375.2" y="400.8">0</tspan><tspan x="438.6" y="400.8">500</tspan><tspan x="502" y="400.8">1000</tspan></text><text class="sf" x="439.1" y="236.1" font-size="9.85" font-weight="bold" text-anchor="middle" fill="#262626" stroke="#262626" stroke-width="0.08">m = 0.02 (SE =0.02), <tspan font-style="italic" stroke-width="0.5">σ</tspan> = 0.85</text><text class="sf" x="439.1" y="249.3" font-size="10" text-anchor="middle" fill="#262626" stroke="#262626">Funnel plot</text><text class="sf" x="438.3" y="414.2" font-size="9.8" text-anchor="middle" fill="#262626" stroke="#262626">AST2022-23</text><text class="sf" transform="translate(351.3 321) rotate(-90)" x="0" y="0" font-size="9.9" text-anchor="middle" fill="#262626" stroke="#262626">Derivatives AMR2022-23</text></g>
</svg></body></html>
